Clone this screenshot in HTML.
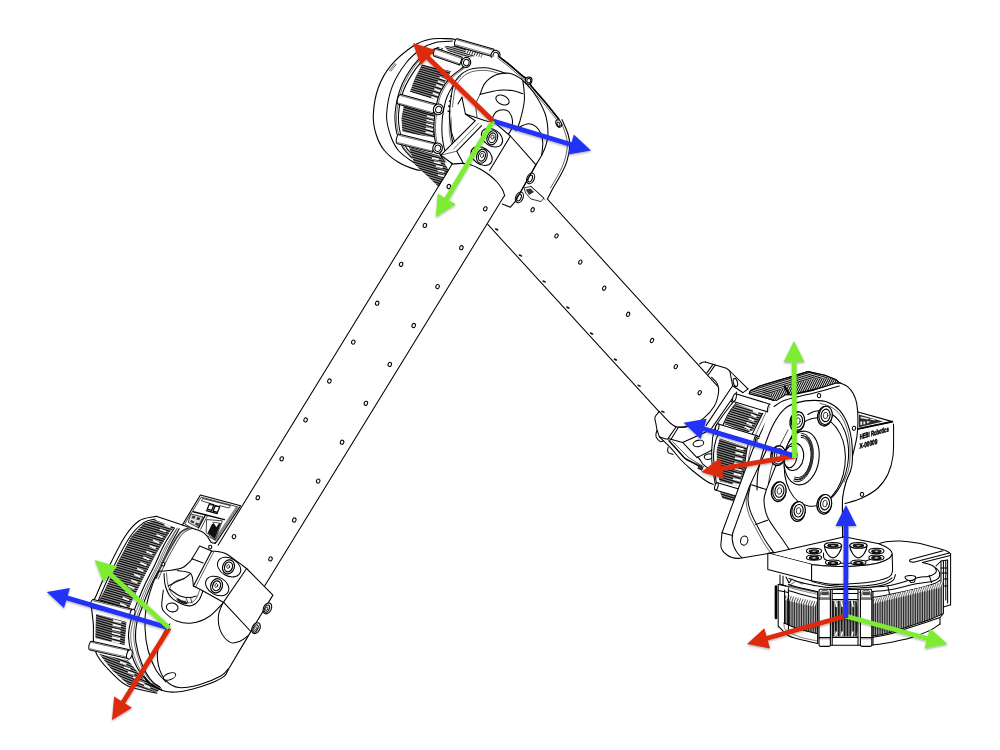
<!DOCTYPE html>
<html><head><meta charset="utf-8"><title>Robot arm frames</title>
<style>
html,body{margin:0;padding:0;background:#fff;}
body{width:1000px;height:750px;overflow:hidden;font-family:"Liberation Sans",sans-serif;}
svg{display:block}
.k{fill:none;stroke:#000;stroke-width:1.04;stroke-linecap:round;stroke-linejoin:round}
.w{fill:#fff;stroke:#000;stroke-width:1.04;stroke-linecap:round;stroke-linejoin:round}
</style></head><body>
<svg width="1000" height="750" viewBox="0 0 1000 750">
<defs>
<filter id="sh" x="-10%" y="-10%" width="120%" height="120%"><feDropShadow dx="0" dy="1.2" stdDeviation="1.2" flood-color="#000" flood-opacity="0.35"/></filter>
</defs>
<rect width="1000" height="750" fill="#fff"/>
<polygon points="470,113.9 740,410.8 740,500.2 470,204.9" fill="#fff" stroke="none"/><line x1="470" y1="113.9" x2="740" y2="410.8" class="k"/><line x1="470" y1="204.9" x2="740" y2="500.2" class="k"/><ellipse cx="532.6" cy="209.8" rx="1.5" ry="2.2" class="k" transform="rotate(25 532.6 209.8)"/><ellipse cx="556.5" cy="235.9" rx="1.5" ry="2.2" class="k" transform="rotate(25 556.5 235.9)"/><ellipse cx="580.3" cy="262.1" rx="1.5" ry="2.2" class="k" transform="rotate(25 580.3 262.1)"/><ellipse cx="604.2" cy="288.2" rx="1.5" ry="2.2" class="k" transform="rotate(25 604.2 288.2)"/><ellipse cx="628.1" cy="314.3" rx="1.5" ry="2.2" class="k" transform="rotate(25 628.1 314.3)"/><ellipse cx="652.0" cy="340.5" rx="1.5" ry="2.2" class="k" transform="rotate(25 652.0 340.5)"/><ellipse cx="675.8" cy="366.6" rx="1.5" ry="2.2" class="k" transform="rotate(25 675.8 366.6)"/><ellipse cx="699.7" cy="392.7" rx="1.5" ry="2.2" class="k" transform="rotate(25 699.7 392.7)"/><ellipse cx="496.6" cy="229.4" rx="2.0" ry="0.9" fill="#111" transform="rotate(25 496.6 229.4)"/><ellipse cx="520.4" cy="255.5" rx="2.0" ry="0.9" fill="#111" transform="rotate(25 520.4 255.5)"/><ellipse cx="544.1" cy="281.5" rx="2.0" ry="0.9" fill="#111" transform="rotate(25 544.1 281.5)"/><ellipse cx="567.9" cy="307.6" rx="2.0" ry="0.9" fill="#111" transform="rotate(25 567.9 307.6)"/><ellipse cx="591.6" cy="333.6" rx="2.0" ry="0.9" fill="#111" transform="rotate(25 591.6 333.6)"/><ellipse cx="615.4" cy="359.6" rx="2.0" ry="0.9" fill="#111" transform="rotate(25 615.4 359.6)"/><ellipse cx="639.1" cy="385.7" rx="2.0" ry="0.9" fill="#111" transform="rotate(25 639.1 385.7)"/><ellipse cx="662.9" cy="411.8" rx="2.0" ry="0.9" fill="#111" transform="rotate(25 662.9 411.8)"/>
<g id="act2"><path d="M424 170 C422.7 169.9 420.3 170.9 416 169.6 C411.7 168.3 403.3 165.3 398 162 C392.7 158.7 387.7 154.7 384 150 C380.3 145.3 377.8 139.9 376 134 C374.2 128.1 372.9 122.3 373.3 114.6 C373.7 106.9 375.3 96.2 378.2 88 C381.1 79.8 385 72.6 390.8 65.6 C396.6 58.6 406.7 50.4 413.2 46 C419.7 41.6 424.9 40.4 430 39.2 C435.1 38 439.6 38.5 444 38.6 C448.4 38.7 452.3 38.5 456.6 39.7 C460.9 40.9 467.8 45 470 46 L470 80 L450 160 Z" class="w" style="stroke:none"/><path d="M424 170 C422.7 169.9 420.3 170.9 416 169.6 C411.7 168.3 403.3 165.3 398 162 C392.7 158.7 387.7 154.7 384 150 C380.3 145.3 377.8 139.9 376 134 C374.2 128.1 372.9 122.3 373.3 114.6 C373.7 106.9 375.3 96.2 378.2 88 C381.1 79.8 385 72.6 390.8 65.6 C396.6 58.6 406.7 50.4 413.2 46 C419.7 41.6 424.9 40.4 430 39.2 C435.1 38 439.6 38.5 444 38.6 C448.4 38.7 452.3 38.5 456.6 39.7 C460.9 40.9 467.8 45 470 46" class="k" style="stroke-width:1.10"/><path d="M426 167 C425 166.8 422.7 167.2 420 166 C417.3 164.8 413.7 162.7 410 160 C406.3 157.3 401.3 154.3 398 150 C394.7 145.7 391.9 139.9 390 134 C388.1 128.1 386.2 122.5 386.6 114.6 C387 106.7 388.9 95.2 392.2 86.6 C395.5 78 401.3 69.1 406.2 62.8 C411.1 56.5 416.7 52.2 421.6 48.8 C426.5 45.4 430.5 43.8 435.6 42.5 C440.7 41.2 449.6 41.3 452.4 41.1" class="k" /><path d="M412 158 C410.5 156.3 405.5 152 403 148 C400.5 144 398.3 139.7 397 134 C395.7 128.3 394.4 121.7 395 114 C395.6 106.3 397.6 96.1 400.6 88 C403.6 79.9 409 71.4 413.2 65.6 C417.4 59.8 421.6 56 425.8 53 C430 50 436.3 48.3 438.4 47.4" class="k" /><path d="M416 158 C414.4 156.3 409.1 152 406.5 148 C403.9 144 401.8 139.6 400.5 134 C399.2 128.4 398 121.8 398.5 114.6 C399 107.4 400.5 98.5 403.4 90.8 C406.3 83.1 411.8 74.4 416 68.4 C420.2 62.5 424.2 58.4 428.6 55.1 C433 51.8 440.3 49.8 442.6 48.8" class="k" /><path d="M413.6 158.4 C412.1 156.7 407.1 152.4 404.6 148.4 C402.1 144.4 399.9 140.1 398.6 134.4 C397.3 128.7 396 122.1 396.6 114.4 C397.2 106.7 399.2 96.5 402.2 88.4 C405.2 80.3 410.6 71.8 414.8 66 C419 60.2 423.2 56.4 427.4 53.4 C431.6 50.4 437.9 48.7 440 47.8" class="k" style="stroke-width:0.55"/><path d="M389.6 70.4 L395 63.6" class="k" style="stroke-width:0.61"/><path d="M390.8 71.2 L396.2 64.4" class="k" style="stroke-width:0.61"/><clipPath id="df1"><path d="M444 46 L466.4 46 L483.2 53 L470.6 57.5 L460.8 56.1 L448 51 Z"/></clipPath><g clip-path="url(#df1)"><path d="M444 46 L466.4 46 L483.2 53 L470.6 57.5 L460.8 56.1 L448 51 Z" fill="#a8a8a8"/><path d="M444.8 39.7L484.7 51.3M444.3 41.5L484.2 53.2M443.7 43.3L483.7 55M443.2 45.2L483.1 56.8M442.7 47L482.6 58.6M442.1 48.8L482.1 60.5" stroke="#111" stroke-width="0.98" fill="none"/><path d="M444.5 40.6L484.5 52.3M444 42.4L483.9 54.1M443.5 44.3L483.4 55.9M442.9 46.1L482.9 57.7M442.4 47.9L482.3 59.6M441.9 49.7L481.8 61.4" stroke="#d0d0d0" stroke-width="0.43" fill="none"/></g><clipPath id="df2"><path d="M422 64.6 L451 71.2 L444 84 L437 100.2 L410 91.8 L415 78 Z"/></clipPath><g clip-path="url(#df2)"><path d="M422 64.6 L451 71.2 L444 84 L437 100.2 L410 91.8 L415 78 Z" fill="#787878"/><path d="M417.8 61.5L452 71.5M417.2 63.6L451.3 73.6M416.6 65.7L450.7 75.7M415.9 67.9L450.1 77.8M415.3 70L449.5 79.9M414.7 72.1L448.9 82M414.1 74.2L448.3 84.2M413.5 76.3L447.6 86.3M412.9 78.4L447 88.4M412.2 80.5L446.4 90.5M411.6 82.6L445.8 92.6M411 84.7L445.2 94.7M410.4 86.9L444.6 96.8M409.8 89L444 98.9M409.2 91.1L443.3 101" stroke="#111" stroke-width="1.46" fill="none"/><path d="M417.5 62.6L451.7 72.5M416.9 64.7L451 74.6M416.3 66.8L450.4 76.8M415.6 68.9L449.8 78.9M415 71L449.2 81M414.4 73.1L448.6 83.1M413.8 75.2L448 85.2M413.2 77.4L447.3 87.3M412.6 79.5L446.7 89.4M411.9 81.6L446.1 91.5M411.3 83.7L445.5 93.7M410.7 85.8L444.9 95.8M410.1 87.9L444.3 97.9M409.5 90L443.6 100M408.9 92.1L443 102.1" stroke="#d0d0d0" stroke-width="0.43" fill="none"/></g><clipPath id="df3"><path d="M404 105 L436 115 L434 137.4 L402.5 132 L401.5 118 Z"/></clipPath><g clip-path="url(#df3)"><path d="M404 105 L436 115 L434 137.4 L402.5 132 L401.5 118 Z" fill="#787878"/><path d="M403 104.7L441.3 115.9M402.4 106.8L440.7 118M401.8 108.9L440.1 120.1M401.2 111.1L439.5 122.2M400.6 113.2L438.9 124.3M400 115.3L438.2 126.4M399.3 117.4L437.6 128.6M398.7 119.5L437 130.7M398.1 121.6L436.4 132.8M397.5 123.7L435.8 134.9M396.9 125.8L435.2 137M396.3 128L434.5 139.1" stroke="#111" stroke-width="1.46" fill="none"/><path d="M402.7 105.8L441 116.9M402.1 107.9L440.4 119.1M401.5 110L439.8 121.2M400.9 112.1L439.2 123.3M400.3 114.2L438.5 125.4M399.7 116.3L437.9 127.5M399 118.4L437.3 129.6M398.4 120.6L436.7 131.7M397.8 122.7L436.1 133.8M397.2 124.8L435.5 135.9M396.6 126.9L434.8 138.1M396 129L434.2 140.2" stroke="#d0d0d0" stroke-width="0.43" fill="none"/></g><clipPath id="df4"><path d="M409 147 L440 156 L449 170.4 L440 188 L424 173 L414.4 164 Z"/></clipPath><g clip-path="url(#df4)"><path d="M409 147 L440 156 L449 170.4 L440 188 L424 173 L414.4 164 Z" fill="#787878"/><path d="M408.1 146.7L453.1 159.8M407.4 148.8L452.5 161.9M406.8 150.9L451.9 164.1M406.2 153L451.3 166.2M405.6 155.1L450.7 168.3M405 157.2L450 170.4M404.4 159.4L449.4 172.5M403.7 161.5L448.8 174.6M403.1 163.6L448.2 176.7M402.5 165.7L447.6 178.8M401.9 167.8L447 180.9M401.3 169.9L446.3 183.1M400.7 172L445.7 185.2M400 174.1L445.1 187.3" stroke="#111" stroke-width="1.46" fill="none"/><path d="M407.7 147.7L452.8 160.9M407.1 149.8L452.2 163M406.5 152L451.6 165.1M405.9 154.1L451 167.2M405.3 156.2L450.4 169.3M404.7 158.3L449.7 171.4M404 160.4L449.1 173.6M403.4 162.5L448.5 175.7M402.8 164.6L447.9 177.8M402.2 166.7L447.3 179.9M401.6 168.9L446.7 182M401 171L446 184.1M400.4 173.1L445.4 186.2M399.7 175.2L444.8 188.3" stroke="#d0d0d0" stroke-width="0.43" fill="none"/></g><path d="M441.5 73.5l6.4 2.6M439.6 77.2l6.4 2.6M437.8 81.2l6.4 2.6M436 85l6.4 2.6M434.4 89l6.4 2.6M432.8 93l6.4 2.6M431.4 97l6.4 2.6M427 116l7.4 1.9M426.6 120l7.4 1.9M426.2 124l7.4 1.9M425.8 128l7.4 1.9M425.6 132l7.4 1.9M432 158l6.8 1.4M434 162l6.8 1.4M436 166l6.8 1.4M437.5 170.5l6.8 1.4M438 175l6.8 1.4" stroke="#fff" stroke-width="1.71" fill="none"/><path d="M466 53L468.4 47.6M468.3 53.8L470.7 48.4M470.6 54.5L473 49.1M472.9 55.2L475.3 49.9M475.2 56L477.6 50.6M477.5 56.8L479.9 51.4M479.8 57.5L482.2 52.1" stroke="#fff" stroke-width="1.71" fill="none"/><path d="M466 53L468.4 47.6M468.3 53.8L470.7 48.4M470.6 54.5L473 49.1M472.9 55.2L475.3 49.9M475.2 56L477.6 50.6M477.5 56.8L479.9 51.4M479.8 57.5L482.2 52.1" stroke="#111" stroke-width="0.67" fill="none" transform="translate(1 0.2)"/><path d="M463.6 67 C461.3 68.9 453.5 74 449.6 78.2 C445.7 82.4 442.6 87.7 440.4 92 C438.2 96.3 437.6 99.3 436.6 104 C435.6 108.7 434.6 115.2 434.2 120.2 C433.8 125.2 433.7 129.4 434.2 134 C434.7 138.6 435.3 143.3 437 148 C438.7 152.7 443.2 159.7 444.5 162 L454 165 L456 154 L456 154 L451.4 136 L451 123 L452 112 L455 99 L462.2 85.2 L474.8 74 Z" class="w" style="stroke:none"/><path d="M463.6 67 C461.3 68.9 453.5 74 449.6 78.2 C445.7 82.4 442.6 87.7 440.4 92 C438.2 96.3 437.6 99.3 436.6 104 C435.6 108.7 434.6 115.2 434.2 120.2 C433.8 125.2 433.7 129.4 434.2 134 C434.7 138.6 435.3 143.3 437 148 C438.7 152.7 443.2 159.7 444.5 162" class="k" style="stroke-width:1.10"/><path d="M469.2 71.2 C467.1 72.8 460.2 76.9 456.6 81 C453 85.1 449.6 91.2 447.4 96 C445.2 100.8 444.5 105.5 443.6 110 C442.7 114.5 442.2 118.3 442 123 C441.8 127.7 441.7 132.8 442.4 138 C443.1 143.2 444.3 149.5 446 154 C447.7 158.5 451.4 163.2 452.5 165" class="k" /><path d="M474.8 74 C472.7 75.9 465.5 81 462.2 85.2 C458.9 89.4 456.7 94.5 455 99 C453.3 103.5 452.7 108 452 112 C451.3 116 451.1 119 451 123 C450.9 127 450.6 130.8 451.4 136 C452.2 141.2 455.2 151 456 154" class="k" style="stroke-width:1.10"/><path d="M465.2 67.5 C462.9 69.4 455.1 74.5 451.2 78.7 C447.3 82.9 444.2 88.2 442 92.5 C439.8 96.8 439.2 99.8 438.2 104.5 C437.2 109.2 436.2 115.7 435.8 120.7 C435.4 125.7 435.3 129.9 435.8 134.5 C436.3 139.1 436.9 143.8 438.6 148.5 C440.3 153.2 444.9 160.2 446.1 162.5" class="k" style="stroke-width:0.55"/><path d="M473.2 73.6 C471.1 75.5 463.9 80.6 460.6 84.8 C457.3 89 455.1 94.1 453.4 98.6 C451.7 103.1 451.1 107.6 450.4 111.6 C449.7 115.6 449.5 118.6 449.4 122.6 C449.3 126.6 449 130.4 449.8 135.6 C450.6 140.8 453.6 150.6 454.4 153.6" class="k" style="stroke-width:0.55"/><path d="M460 77l2.6 0.9M457 81.5l2.6 0.9M450.2 96l2.6 0.9M449 101l2.6 0.9M448.2 106l2.6 0.9M447.6 111l2.6 0.9" stroke="#111" stroke-width="1.34" fill="none"/><path d="M455.4 45.9 L492 56.4 L494 49.2 L457.4 38.7 A1.7 3.7 16 0 0 455.4 45.9 Z" class="w" /><line x1="455.7" y1="44.7" x2="492.3" y2="55.2" class="k" style="stroke-width:0.55"/><line x1="457.1" y1="39.9" x2="493.7" y2="50.4" class="k" style="stroke-width:0.55"/><ellipse cx="495.5" cy="55.2" rx="4.5" ry="4.9" class="w" transform="rotate(16 495.5 55.2)" style="stroke-width:1.10"/><ellipse cx="495.7" cy="55.3" rx="2.7" ry="3" class="w" transform="rotate(16 495.7 55.3)" style="stroke-width:0.98"/><path d="M434.1 56.3 L459.7 65.1 L462.3 57.3 L436.7 48.5 A1.8 4.1 19 0 0 434.1 56.3 Z" class="w" /><line x1="434.5" y1="55.1" x2="460.1" y2="63.9" class="k" style="stroke-width:0.55"/><line x1="436.3" y1="49.7" x2="461.9" y2="58.5" class="k" style="stroke-width:0.55"/><ellipse cx="466.1" cy="62.4" rx="4.6" ry="5" class="w" transform="rotate(16 466.1 62.4)" style="stroke-width:1.10"/><ellipse cx="466.3" cy="62.5" rx="2.8" ry="3.1" class="w" transform="rotate(16 466.3 62.5)" style="stroke-width:0.98"/><path d="M398.4 104.3 L433 113.9 L435.8 104.1 L401.2 94.5 A2.3 5.1 15.5 0 0 398.4 104.3 Z" class="w" /><line x1="398.8" y1="103.2" x2="433.4" y2="112.8" class="k" style="stroke-width:0.55"/><line x1="400.8" y1="95.6" x2="435.4" y2="105.2" class="k" style="stroke-width:0.55"/><ellipse cx="438.4" cy="109.4" rx="5" ry="5.4" class="w" transform="rotate(16 438.4 109.4)" style="stroke-width:1.10"/><ellipse cx="438.6" cy="109.5" rx="3" ry="3.3" class="w" transform="rotate(16 438.6 109.5)" style="stroke-width:0.98"/><path d="M397.5 143.7 L432.5 152.3 L434.7 142.9 L399.7 134.3 A2.2 4.8 13.8 0 0 397.5 143.7 Z" class="w" /><line x1="397.7" y1="142.5" x2="432.7" y2="151.1" class="k" style="stroke-width:0.55"/><line x1="399.5" y1="135.5" x2="434.5" y2="144.1" class="k" style="stroke-width:0.55"/><ellipse cx="437.6" cy="148.2" rx="4.8" ry="5.2" class="w" transform="rotate(16 437.6 148.2)" style="stroke-width:1.10"/><ellipse cx="437.8" cy="148.3" rx="2.9" ry="3.2" class="w" transform="rotate(16 437.8 148.3)" style="stroke-width:0.98"/><path d="M499 56.6 C501 58.2 507 62.7 511 66 C515 69.3 519.9 73.9 522.8 76.2 C525.7 78.5 527 78.1 528.4 79.7 C529.8 81.3 528.4 82.3 531.2 86 C534 89.7 540.3 96.4 545 102 C549.7 107.6 556.4 116.7 559.2 119.6 C562 122.5 560.5 117.2 562 119.6 C563.5 122 566.7 129.6 568 134 C569.3 138.4 570 141.4 569.8 146 C569.6 150.6 568.3 156.8 566.8 161.6 C565.3 166.4 563.2 170.2 560.8 174.8 C558.4 179.4 554.6 185.2 552.4 189.2 C550.2 193.2 548.4 197.2 547.6 198.8 L520 200 L470 150 L452 125 L450 105 L454.2 83.2 L466.8 70.6 L495 56 Z" class="w" style="stroke:none"/><path d="M499 56.6 C501 58.2 507 62.7 511 66 C515 69.3 519.9 73.9 522.8 76.2 C525.7 78.5 527 78.1 528.4 79.7 C529.8 81.3 530.7 85 531.2 86" class="k" style="stroke-width:1.10"/><path d="M531.2 86 C533.5 88.7 540.3 96.4 545 102 C549.7 107.6 556.8 116.7 559.2 119.6" class="k" /><path d="M562 119.6 C563 122 566.7 129.6 568 134 C569.3 138.4 570 141.4 569.8 146 C569.6 150.6 568.3 156.8 566.8 161.6 C565.3 166.4 563.2 170.2 560.8 174.8 C558.4 179.4 554.6 185.2 552.4 189.2 C550.2 193.2 548.4 197.2 547.6 198.8" class="k" style="stroke-width:1.10"/><path d="M497.6 58 C499.6 59.6 505.6 64.1 509.6 67.4 C513.6 70.7 518.5 75.3 521.4 77.6 C524.3 79.9 525.6 79.5 527 81.1 C528.4 82.7 527 83.7 529.8 87.4 C532.6 91.1 538.9 97.8 543.6 103.4 C548.3 109 555.4 118.1 557.8 121" class="k" style="stroke-width:0.61"/><path d="M499 56.6 C501 58.2 507 62.7 511 66 C515 69.3 519.9 73.9 522.8 76.2 C525.7 78.5 527 78.1 528.4 79.7 C529.8 81.3 528.4 82.3 531.2 86 C534 89.7 540.3 96.4 545 102 C549.7 107.6 556.8 116.7 559.2 119.6" class="k" style="stroke-width:1.71;stroke-dasharray:1.2 1.4"/><path d="M562 124 C562.7 126 565.1 132.3 566 136 C566.9 139.7 567.7 141.8 567.4 146 C567.1 150.2 565.9 156.3 564.4 161 C562.9 165.7 560.9 169.5 558.6 174 C556.3 178.5 551.8 185.7 550.4 188" class="k" style="stroke-width:0.61"/><ellipse cx="528.6" cy="80.6" rx="3.3" ry="3.6" class="w" transform="rotate(16 528.6 80.6)" style="stroke-width:1.10"/><ellipse cx="528.8" cy="80.7" rx="2" ry="2.2" class="w" transform="rotate(16 528.8 80.7)" style="stroke-width:0.98"/><ellipse cx="558.7" cy="123.6" rx="2.6" ry="3.9" class="w" transform="rotate(-25 558.7 123.6)" /><ellipse cx="558.5" cy="124.2" rx="1.3" ry="2.3" class="k" transform="rotate(-25 558.5 124.2)" /><path d="M450 105.6 C450.7 101.9 451.4 89 454.2 83.2 C457 77.4 461.7 73.2 466.8 70.6 C471.9 68 479.2 67.6 485 67.8 C490.8 68 495.5 69.7 501.8 72 C508.1 74.3 519.3 80.2 522.8 81.8" class="k" /><path d="M452.4 107 C453.1 103.4 453.8 91 456.4 85.4 C459 79.8 463.2 75.7 468 73.2 C472.8 70.7 479.5 70.2 485 70.4 C490.5 70.6 495 72.2 501 74.4 C507 76.6 517.7 82.1 521 83.6" class="k" style="stroke-width:0.61"/><path d="M450 105.6 C449.9 107.7 449.2 113.9 449.4 118 C449.6 122.1 449.9 125.3 451 130 C452.1 134.7 455.2 143.3 456 146" class="k" /><path d="M480.1 94.4 L485 83.2 L496.2 74.8 L510.2 73.4 L521.4 79 L534 93 L545.2 114 L548 135 L546.4 143.6 L541.6 155.6 L535.6 165.2 L500 130 L465.4 114 L461.9 97.2 Z" class="w" style="stroke:none"/><path d="M480.1 94.4 C480.9 92.5 482.3 86.5 485 83.2 C487.7 79.9 492 76.4 496.2 74.8 C500.4 73.2 506 72.7 510.2 73.4 C514.4 74.1 519.5 78.1 521.4 79" class="k" /><path d="M480.1 94.4 C483.2 93.7 493.7 90.8 499 90.2 C504.3 89.6 508 90 512 90.6 C516 91.2 521 93.2 522.8 93.7" class="k" /><path d="M522.8 80.4 C523.1 83.7 524.9 93.2 524.4 100 C523.9 106.8 521.4 115.9 520 121 C518.6 126.1 516.5 129.2 515.8 130.8" class="k" /><path d="M521.4 79 C523.5 81.3 530 87.2 534 93 C538 98.8 542.9 107.5 545.2 114 C547.5 120.5 547.8 127.1 548 132 C548.2 136.9 547.5 139.7 546.4 143.6 C545.3 147.5 543.4 152 541.6 155.6 C539.8 159.2 536.6 163.6 535.6 165.2" class="k" /><ellipse cx="502.5" cy="100" rx="7" ry="4.4" class="w" transform="rotate(25 502.5 100)" /><path d="M480.1 94.4 C479.4 96 476.5 100.2 476 104 C475.5 107.8 476.8 114.8 477 117" class="k" style="stroke-width:0.73"/><path d="M492 118.8 C492.7 117.7 494.1 113.5 496 112 C497.9 110.5 501 109.8 503.2 109.8 C505.4 109.8 507.5 110.3 509 112 C510.5 113.7 512.1 117 512.4 120 C512.7 123 512.1 127.2 511 130 C509.9 132.8 506.8 135.8 506 137" class="k" /><path d="M517.2 128 C519.1 127.3 525.3 124 528.4 123.8 C531.5 123.6 533.9 124.9 536 126.6 C538.1 128.3 539.9 131.3 541 134 C542.1 136.7 542.7 139.4 542.8 143 C542.9 146.6 541.8 153.5 541.6 155.6" class="k" /><path d="M461.9 97.2 L465.4 114 L490.6 122.4" class="k" /><path d="M461.9 97.2 L458 104" class="k" /><path d="M475.2 120.8 L494.4 122.4 L510.4 136 L536 164.8 L515.2 201.6 L510.4 207.2 L502.4 204 L452.8 164 L440.8 155.2 Z" class="w" style="stroke:none"/><path d="M465.4 114 L475.2 120.8 L440.8 155.2 L452.8 164" class="k" style="stroke-width:1.10"/><path d="M481.6 125.6 L456.8 151.2 L463.4 163.6" class="k" /><path d="M478.4 123.4 L453.6 149" class="k" style="stroke-width:0.55"/><path d="M440.8 155.2 L456.8 151.2" class="k" style="stroke-width:0.61"/><path d="M490.6 122.4 L494.4 122.4 L510.4 136 L536 164.8 L515.2 201.6 L510.4 207.2 L502.4 204" class="k" style="stroke-width:1.10"/><path d="M510.4 136 L489.6 170.4" class="k" /><ellipse cx="492" cy="137.6" rx="11.6" ry="8.2" class="w" transform="rotate(35 492 137.6)" /><ellipse cx="492.3" cy="137.8" rx="5.2" ry="7.2" class="w" transform="rotate(18 492.3 137.8)" style="stroke-width:1.10"/><ellipse cx="492.3" cy="137.8" rx="3.4" ry="5" class="w" transform="rotate(18 492.3 137.8)" style="stroke-width:1.10"/><ellipse cx="492.5" cy="137" rx="1.5" ry="2.2" class="k" transform="rotate(18 492.5 137)" style="stroke-width:0.73"/><ellipse cx="481.6" cy="156" rx="11.6" ry="8.2" class="w" transform="rotate(35 481.6 156)" /><ellipse cx="481.9" cy="156.2" rx="5.2" ry="7.2" class="w" transform="rotate(18 481.9 156.2)" style="stroke-width:1.10"/><ellipse cx="481.9" cy="156.2" rx="3.4" ry="5" class="w" transform="rotate(18 481.9 156.2)" style="stroke-width:1.10"/><ellipse cx="482.1" cy="155.4" rx="1.5" ry="2.2" class="k" transform="rotate(18 482.1 155.4)" style="stroke-width:0.73"/><ellipse cx="530.6" cy="178.4" rx="3.6" ry="5.6" class="w" transform="rotate(25 530.6 178.4)" style="stroke-width:1.10"/><ellipse cx="530.2" cy="178.6" rx="2" ry="3.6" class="k" transform="rotate(25 530.2 178.6)" /><ellipse cx="519.4" cy="197.4" rx="3.6" ry="5.6" class="w" transform="rotate(25 519.4 197.4)" style="stroke-width:1.10"/><ellipse cx="519" cy="197.6" rx="2" ry="3.6" class="k" transform="rotate(25 519 197.6)" /><path d="M536 164.8 L515.2 201.6" class="k" style="stroke-width:1.10"/><path d="M524 188 L531 186.4 L544 198 L541 201.6 L531 199 L525.6 193 Z" fill="#fff" stroke="#111" stroke-width="0.85"/><path d="M525.6 189.4 L530.6 188.4 L534 192 L529 195 Z" fill="#333"/><path d="M531 186.4 L545 199.6" class="k" style="stroke-width:0.61"/></g>
<path d="M452.8 164 C454.3 163.9 459.1 163.3 462 163.4 C464.9 163.5 467.4 163.9 470.4 164.8 C473.4 165.7 476.8 167.3 480 169 C483.2 170.7 486.8 173 489.6 175.2 C492.4 177.4 494.9 179.6 497 182 C499.1 184.4 501.1 187.3 502.4 189.6 C503.7 191.9 504.4 194.9 504.8 196 L256 600 L184.4 600 Z" class="w" style="stroke:none"/><path d="M452.8 164 C454.3 163.9 459.1 163.3 462 163.4 C464.9 163.5 467.4 163.9 470.4 164.8 C473.4 165.7 476.8 167.3 480 169 C483.2 170.7 486.8 173 489.6 175.2 C492.4 177.4 494.9 179.6 497 182 C499.1 184.4 501.1 187.3 502.4 189.6 C503.7 191.9 504.4 194.9 504.8 196" class="k" style="stroke-width:1.10"/><line x1="452.2" y1="164" x2="184.4" y2="600" class="k" /><line x1="504.2" y1="196" x2="256" y2="600" class="k" /><ellipse cx="448.8" cy="186.5" rx="1.7" ry="2.1" class="k" transform="rotate(20 448.8 186.5)" /><ellipse cx="485.3" cy="208.8" rx="1.7" ry="2.1" class="k" transform="rotate(20 485.3 208.8)" /><ellipse cx="424.9" cy="225.4" rx="1.7" ry="2.1" class="k" transform="rotate(20 424.9 225.4)" /><ellipse cx="461.4" cy="247.7" rx="1.7" ry="2.1" class="k" transform="rotate(20 461.4 247.7)" /><ellipse cx="401.1" cy="264.3" rx="1.7" ry="2.1" class="k" transform="rotate(20 401.1 264.3)" /><ellipse cx="437.6" cy="286.6" rx="1.7" ry="2.1" class="k" transform="rotate(20 437.6 286.6)" /><ellipse cx="377.2" cy="303.2" rx="1.7" ry="2.1" class="k" transform="rotate(20 377.2 303.2)" /><ellipse cx="413.7" cy="325.5" rx="1.7" ry="2.1" class="k" transform="rotate(20 413.7 325.5)" /><ellipse cx="353.3" cy="342.1" rx="1.7" ry="2.1" class="k" transform="rotate(20 353.3 342.1)" /><ellipse cx="389.8" cy="364.4" rx="1.7" ry="2.1" class="k" transform="rotate(20 389.8 364.4)" /><ellipse cx="329.4" cy="381" rx="1.7" ry="2.1" class="k" transform="rotate(20 329.4 381)" /><ellipse cx="365.9" cy="403.3" rx="1.7" ry="2.1" class="k" transform="rotate(20 365.9 403.3)" /><ellipse cx="305.6" cy="419.9" rx="1.7" ry="2.1" class="k" transform="rotate(20 305.6 419.9)" /><ellipse cx="342.1" cy="442.2" rx="1.7" ry="2.1" class="k" transform="rotate(20 342.1 442.2)" /><ellipse cx="281.7" cy="458.8" rx="1.7" ry="2.1" class="k" transform="rotate(20 281.7 458.8)" /><ellipse cx="318.2" cy="481.1" rx="1.7" ry="2.1" class="k" transform="rotate(20 318.2 481.1)" /><ellipse cx="257.8" cy="497.7" rx="1.7" ry="2.1" class="k" transform="rotate(20 257.8 497.7)" /><ellipse cx="294.3" cy="520" rx="1.7" ry="2.1" class="k" transform="rotate(20 294.3 520)" /><ellipse cx="234" cy="536.6" rx="1.7" ry="2.1" class="k" transform="rotate(20 234 536.6)" /><ellipse cx="270.5" cy="558.9" rx="1.7" ry="2.1" class="k" transform="rotate(20 270.5 558.9)" />
<g id="act1"><path d="M200.4 495 L240.6 505.8 L216.6 541.6 Q215.4 543.6 213 542.6 L182.4 525 Z" class="w" style="stroke-width:1.10"/><path d="M201.6 497.2 L238.2 507 L215.6 540.4 L185 524.2 Z" class="k" style="stroke-width:0.73"/><path d="M236 506.6 L238.6 507.2 L216.4 540.6 L214 539.6 Z" class="k" style="fill:#888;stroke:none"/><path d="M203 498.6 L230.4 505.6 L229 508 L219.6 505.6 L218.8 506.8 L209.6 504.6 L210.2 503.4 L202 501 Z" class="k" style="stroke-width:0.73"/><path d="M209.6 503.6 L214 504.8 L211.6 510.4 L207.2 509.2 Z M215.4 505.6 L219.8 506.8 L217.4 512.4 L213 511.2 Z" class="k" style="stroke-width:1.22"/><path d="M206.4 510.6 L217.2 513.6" class="k" style="stroke-width:1.22"/><path d="M193.2 511.8 L224.4 519.6" class="k" style="stroke-width:1.46"/><path d="M205.4 515 L198.4 528" class="k" style="stroke-width:1.34"/><path d="M207.6 515.6 L200.6 529.2" class="k" style="stroke-width:0.73"/><path d="M191 514 L203 517 L197.6 527.4 L188.6 522.6 Z" class="k" style="fill:#ddd;stroke-width:0.73"/><path d="M192.6 515.6 l3 0.8 l-1.2 2.4 l-3 -0.8Z M197.4 517 l3 0.8 l-1.2 2.4 l-3 -0.8Z M191 520 l3.4 1.4 l-1 2 l-3.2 -1.6Z M196 522.4 l3 1.2 l-1.2 2.4 l-2.8 -1.4Z" class="k" style="fill:#333;stroke:none"/><path d="M207 519.6 L222.4 520.8 L215 540 L206.4 532.8 Z" class="k" style="fill:#fff;stroke-width:0.73"/><path d="M212 524 L221 523 L214.8 539 L207.6 533 Z" class="k" style="fill:#111;stroke:none"/><path d="M213.2 522.4 L219.6 523 L216.4 527.6 Z" class="k" style="fill:#fff;stroke-width:0.61"/><path d="M157 516.4 L153.6 516.8 L139.2 520.8 L124.8 536.8 L107.2 570.4 L96 596 L91.2 606 L93.4 625 L93.6 642 L97.6 656 L112 673.2 L128 686 L156.8 693.2 L166 690 L200 600 L215 543 L182.4 525 Z" class="w" style="stroke:none"/><path d="M157 516.4 C156.4 516.5 156.6 516.1 153.6 516.8 C150.6 517.5 144 517.5 139.2 520.8 C134.4 524.1 130.1 528.5 124.8 536.8 C119.5 545.1 112 560.5 107.2 570.4 C102.4 580.3 98.7 590.1 96 596 C93.3 601.9 92 604.3 91.2 606" class="k" style="stroke-width:1.10"/><path d="M91.2 606 C91.6 609.2 93 619 93.4 625 C93.8 631 92.9 636.8 93.6 642 C94.3 647.2 94.5 650.8 97.6 656 C100.7 661.2 106.9 668.2 112 673.2 C117.1 678.2 120.5 682.7 128 686 C135.5 689.3 152 692 156.8 693.2" class="k" style="stroke-width:1.10"/><path d="M157 516.4 L182.4 525" class="k" style="stroke-width:1.10"/><path d="M155.2 519 C153.3 519.6 148.2 519.4 144 522.4 C139.8 525.4 135 529.5 130 536.8 C125 544.1 118.8 556.5 114 566 C109.2 575.5 104 587.2 101 594 C98 600.8 96.8 604.8 96 607" class="k" /><clipPath id="df5"><path d="M155.2 520 L144 523.2 L131.2 536.8 L116.8 564 L104 591.2 L98.4 601.5 L128.6 609.6 L132.8 599.2 L144 576.8 L156.8 552.8 L169.6 532 L174.4 527.2 Z"/></clipPath><g clip-path="url(#df5)"><path d="M155.2 520 L144 523.2 L131.2 536.8 L116.8 564 L104 591.2 L98.4 601.5 L128.6 609.6 L132.8 599.2 L144 576.8 L156.8 552.8 L169.6 532 L174.4 527.2 Z" fill="#808080"/><path d="M124 510.8L175.8 526.1M123.4 513L175.1 528.2M122.7 515.1L174.5 530.4M122.1 517.3L173.9 532.5M121.5 519.5L173.2 534.7M120.8 521.6L172.6 536.8M120.2 523.8L172 539M119.6 525.9L171.3 541.2M118.9 528.1L170.7 543.3M118.3 530.3L170.1 545.5M117.7 532.4L169.4 547.6M117 534.6L168.8 549.8M116.4 536.7L168.2 552M115.8 538.9L167.5 554.1M115.1 541.1L166.9 556.3M114.5 543.2L166.3 558.4M113.9 545.4L165.6 560.6M113.2 547.5L165 562.7M112.6 549.7L164.4 564.9M112 551.8L163.7 567.1M111.3 554L163.1 569.2M110.7 556.2L162.5 571.4M110.1 558.3L161.8 573.5M109.4 560.5L161.2 575.7M108.8 562.6L160.5 577.9M108.2 564.8L159.9 580M107.5 567L159.3 582.2M106.9 569.1L158.6 584.3M106.2 571.3L158 586.5M105.6 573.4L157.4 588.7M105 575.6L156.7 590.8M104.3 577.7L156.1 593M103.7 579.9L155.5 595.1M103.1 582.1L154.8 597.3M102.4 584.2L154.2 599.4M101.8 586.4L153.6 601.6M101.2 588.5L152.9 603.8M100.5 590.7L152.3 605.9M99.9 592.9L151.7 608.1M99.3 595L151 610.2M98.6 597.2L150.4 612.4M98 599.3L149.8 614.6" stroke="#111" stroke-width="1.46" fill="none"/><path d="M123.7 511.9L175.5 527.1M123.1 514.1L174.8 529.3M122.4 516.2L174.2 531.4M121.8 518.4L173.6 533.6M121.2 520.5L172.9 535.8M120.5 522.7L172.3 537.9M119.9 524.9L171.7 540.1M119.3 527L171 542.2M118.6 529.2L170.4 544.4M118 531.3L169.7 546.6M117.4 533.5L169.1 548.7M116.7 535.7L168.5 550.9M116.1 537.8L167.8 553M115.5 540L167.2 555.2M114.8 542.1L166.6 557.4M114.2 544.3L165.9 559.5M113.5 546.4L165.3 561.7M112.9 548.6L164.7 563.8M112.3 550.8L164 566M111.6 552.9L163.4 568.1M111 555.1L162.8 570.3M110.4 557.2L162.1 572.5M109.7 559.4L161.5 574.6M109.1 561.6L160.9 576.8M108.5 563.7L160.2 578.9M107.8 565.9L159.6 581.1M107.2 568L159 583.3M106.6 570.2L158.3 585.4M105.9 572.4L157.7 587.6M105.3 574.5L157.1 589.7M104.7 576.7L156.4 591.9M104 578.8L155.8 594M103.4 581L155.2 596.2M102.8 583.1L154.5 598.4M102.1 585.3L153.9 600.5M101.5 587.5L153.2 602.7M100.9 589.6L152.6 604.8M100.2 591.8L152 607M99.6 593.9L151.3 609.2M98.9 596.1L150.7 611.3M98.3 598.3L150.1 613.5M97.7 600.4L149.4 615.6" stroke="#d0d0d0" stroke-width="0.43" fill="none"/></g><clipPath id="df6"><path d="M96 614 L126.4 622 L124.6 645 L95.4 638.6 Z"/></clipPath><g clip-path="url(#df6)"><path d="M96 614 L126.4 622 L124.6 645 L95.4 638.6 Z" fill="#707070"/><path d="M95.3 612.9L131.9 623.6M94.7 615L131.3 625.8M94 617.2L130.7 627.9M93.4 619.3L130 630.1M92.8 621.5L129.4 632.3M92.1 623.6L128.8 634.4M91.5 625.8L128.1 636.6M90.9 628L127.5 638.7M90.2 630.1L126.8 640.9M89.6 632.3L126.2 643.1M88.9 634.4L125.6 645.2" stroke="#111" stroke-width="1.52" fill="none"/><path d="M95 613.9L131.6 624.7M94.3 616.1L131 626.9M93.7 618.2L130.3 629M93.1 620.4L129.7 631.2M92.4 622.6L129.1 633.3M91.8 624.7L128.4 635.5M91.2 626.9L127.8 637.7M90.5 629L127.2 639.8M89.9 631.2L126.5 642M89.3 633.4L125.9 644.1M88.6 635.5L125.3 646.3" stroke="#d0d0d0" stroke-width="0.43" fill="none"/></g><clipPath id="df7"><path d="M99.2 654 L128 660.4 L144 679.6 L160 689.2 L156.8 692.4 L128 684.4 L112 670 Z"/></clipPath><g clip-path="url(#df7)"><path d="M99.2 654 L128 660.4 L144 679.6 L160 689.2 L156.8 692.4 L128 684.4 L112 670 Z" fill="#808080"/><path d="M99.9 649.5L166.5 675.3M99.1 651.6L165.7 677.3M98.3 653.6L164.9 679.4M97.5 655.7L164.1 681.4M96.7 657.7L163.3 683.5M95.9 659.8L162.5 685.5M95.1 661.8L161.7 687.6M94.3 663.9L160.9 689.6M93.5 665.9L160.1 691.7M92.7 668L159.3 693.8M91.9 670L158.5 695.8" stroke="#111" stroke-width="1.40" fill="none"/><path d="M99.5 650.5L166.1 676.3M98.7 652.6L165.3 678.4M97.9 654.6L164.5 680.4M97.1 656.7L163.7 682.5M96.3 658.7L162.9 684.5M95.5 660.8L162.1 686.6M94.7 662.8L161.3 688.6M93.9 664.9L160.5 690.7M93.1 666.9L159.7 692.7M92.3 669L158.9 694.8M91.5 671.1L158.1 696.8" stroke="#d0d0d0" stroke-width="0.43" fill="none"/></g><path d="M164.3 524.5l6.2 2.6M159.8 529.2l6.2 2.6M156.4 534.7l6.2 2.6M153 540.3l6.2 2.6M149.6 545.8l6.2 2.6M146.3 551.4l6.2 2.6M143.3 557.1l6.2 2.6M140.2 562.8l6.2 2.6M137.2 568.6l6.2 2.6M134.1 574.3l6.2 2.6M131.2 580.1l6.2 2.6M128.3 585.9l6.2 2.6M125.4 591.7l6.2 2.6M122.7 597.6l6.2 2.6M120.2 603.6l6.2 2.6M113 620.4l8.4 2.0M112.6 624.6l8.4 2.0M112.2 628.8l8.4 2.0M112 633l8.4 2.0M111.8 637.2l8.4 2.0M111.6 641l8.4 2.0M120 662l6.4 2.2M124 667l6.4 2.2M128 672l6.4 2.2M133 677l6.4 2.2M138 681.5l6.4 2.2M144 685.4l6.4 2.2" stroke="#fff" stroke-width="1.71" fill="none"/><path d="M174.4 528 C172.5 531.1 166.4 540.4 163.2 546.4 C160 552.4 158.4 557.3 155.2 564 C152 570.7 147.2 579.5 144 586.4 C140.8 593.3 138.2 600 136 605.6 C133.8 611.2 132.2 614.6 131 620 C129.8 625.4 128 631 128.6 638 C129.2 645 131.3 654.8 134.4 662 C137.5 669.2 142.7 676.5 147.2 681.2 C151.7 685.9 159.2 688.5 161.6 690 L163 688.6 L152 681.2 L142.4 665.2 L136 642.8 L136.4 625 L141.6 608.8 L150.4 586.4 L160 567.2 L169.6 546.4 L179.2 528.8 Z" class="w" style="stroke:none"/><path d="M174.4 528 C172.5 531.1 166.4 540.4 163.2 546.4 C160 552.4 158.4 557.3 155.2 564 C152 570.7 147.2 579.5 144 586.4 C140.8 593.3 138.2 600 136 605.6 C133.8 611.2 132.2 614.6 131 620 C129.8 625.4 128 631 128.6 638 C129.2 645 131.3 654.8 134.4 662 C137.5 669.2 142.7 676.5 147.2 681.2 C151.7 685.9 159.2 688.5 161.6 690" class="k" style="stroke-width:1.10"/><path d="M179.2 528.8 C177.6 531.7 172.8 540 169.6 546.4 C166.4 552.8 163.2 560.5 160 567.2 C156.8 573.9 153.5 579.5 150.4 586.4 C147.3 593.3 143.9 602.4 141.6 608.8 C139.3 615.2 137.3 619.3 136.4 625 C135.5 630.7 135 636.1 136 642.8 C137 649.5 139.7 658.8 142.4 665.2 C145.1 671.6 148.6 677.3 152 681.2 C155.4 685.1 161.2 687.4 163 688.6" class="k" style="stroke-width:1.10"/><path d="M176.6 528.8 C174.7 531.9 168.6 541.2 165.4 547.2 C162.2 553.2 160.6 558.1 157.4 564.8 C154.2 571.5 149.4 580.3 146.2 587.2 C143 594.1 140.4 600.8 138.2 606.4 C136 612 134.4 615.4 133.2 620.8 C132 626.2 130.2 631.8 130.8 638.8 C131.4 645.8 133.5 655.6 136.6 662.8 C139.7 670 144.9 677.3 149.4 682 C153.9 686.7 161.4 689.3 163.8 690.8" class="k" style="stroke-width:0.55"/><path d="M177.4 528.2 C175.8 531.1 171 539.4 167.8 545.8 C164.6 552.2 161.4 559.9 158.2 566.6 C155 573.3 151.7 578.9 148.6 585.8 C145.5 592.7 142.1 601.8 139.8 608.2 C137.5 614.6 135.5 618.7 134.6 624.4 C133.7 630.1 133.2 635.5 134.2 642.2 C135.2 648.9 137.9 658.2 140.6 664.6 C143.3 671 146.8 676.7 150.2 680.6 C153.6 684.5 159.4 686.8 161.2 688" class="k" style="stroke-width:0.55"/><path d="M91.4 607.6 L129.6 617 L131.6 609 L93.4 599.6 A1.8 4.1 13.8 0 0 91.4 607.6 Z" class="w" /><line x1="91.7" y1="606.4" x2="129.9" y2="615.8" class="k" style="stroke-width:0.55"/><line x1="93.1" y1="600.8" x2="131.3" y2="610.2" class="k" style="stroke-width:0.55"/><ellipse cx="132.4" cy="613.6" rx="2.4" ry="4.4" class="w" transform="rotate(16 132.4 613.6)" /><path d="M90 650 L126.4 658.2 L128.4 649.4 L92 641.2 A2 4.5 12.7 0 0 90 650 Z" class="w" /><line x1="90.3" y1="648.8" x2="126.7" y2="657" class="k" style="stroke-width:0.55"/><line x1="91.7" y1="642.4" x2="128.1" y2="650.6" class="k" style="stroke-width:0.55"/><ellipse cx="129.4" cy="654.4" rx="2.6" ry="4.8" class="w" transform="rotate(16 129.4 654.4)" /><path d="M152 683.6 L158 686.4 L160.8 690" class="k" style="stroke-width:0.73"/><path d="M146 680 L150.4 686.8" class="k" style="stroke-width:0.73"/><path d="M182.4 525 C183.6 525.4 186.4 526.3 189.6 527.4 C192.8 528.5 198.7 530.2 201.6 531.6 C204.5 533 205.4 534.2 207 536 C208.6 537.8 209.8 541.2 211.2 542.4 C212.6 543.6 214.7 543.2 215.4 543.4 L264 586 L273 595.6 L250.8 631.6 L228 670 L224 676.4 L210 683.6 L192 689.2 L176 692 L163.2 690.8 L152 685 L163.2 690.8 L150 672 L143 650 L141.6 630 L144 612 L152 590 L162 568 L172 548 L184.4 528.8 Z" class="w" style="stroke:none"/><path d="M182.4 525 C183.6 525.4 186.4 526.3 189.6 527.4 C192.8 528.5 198.7 530.2 201.6 531.6 C204.5 533 205.4 534.2 207 536 C208.6 537.8 209.8 541.2 211.2 542.4 C212.6 543.6 214.7 543.2 215.4 543.4" class="k" style="stroke-width:1.10"/><path d="M250.8 631.6 L228 670" class="k" style="stroke-width:1.10"/><path d="M228 670 C227.3 671.1 227 674.1 224 676.4 C221 678.7 215.3 681.5 210 683.6 C204.7 685.7 197.7 687.8 192 689.2 C186.3 690.6 180.8 691.7 176 692 C171.2 692.3 167.2 692 163.2 690.8 C159.2 689.6 155.2 687.4 152 685 C148.8 682.6 145.3 677.8 144 676.4" class="k" style="stroke-width:1.10"/><path d="M189.6 527.6 C188.2 528.3 183.6 529.6 181 532 C178.4 534.4 176.8 537.3 174 542 C171.2 546.7 167 554 164 560 C161 566 157.3 575 156 578" class="k" style="stroke:#777;stroke-width:2.20"/><path d="M189.6 527.6 C188.2 528.3 183.6 529.6 181 532 C178.4 534.4 176.8 537.3 174 542 C171.2 546.7 167 554 164 560 C161 566 157.3 575 156 578" class="k" style="stroke-width:0.61"/><path d="M192 528.5 C190.6 529.2 186 530.5 183.4 532.9 C180.8 535.3 179.2 538.2 176.4 542.9 C173.6 547.6 169.4 554.9 166.4 560.9 C163.4 566.9 159.7 575.9 158.4 578.9" class="k" style="stroke-width:0.73"/><ellipse cx="163.3" cy="564.3" rx="1.5" ry="1.8" class="w" /><path d="M158.4 571.3 C157.3 573.8 154 580.2 152 586 C150 591.8 147.6 599 146.4 606 C145.2 613 144.7 620.7 145 628 C145.3 635.3 146.2 643 148 650 C149.8 657 153 664.7 156 670 C159 675.3 164.3 680 166 682" class="k" /><path d="M170 624 C169.4 624.7 168.3 624.7 166.4 628.4 C164.5 632.1 159.7 639.9 158.4 646 C157.1 652.1 157.1 659.3 158.4 665.2 C159.7 671.1 162.9 677.5 166.4 681.2 C169.9 684.9 173.6 687.1 179.2 687.6 C184.8 688.1 193.1 686.3 200 684.4 C206.9 682.5 216.1 678.6 220.8 676 C225.5 673.4 226.8 670.2 228 669" class="k" /><ellipse cx="169.6" cy="676.4" rx="6.4" ry="3.2" class="w" transform="rotate(-20 169.6 676.4)" /><path d="M163.3 590 C163.1 592.7 161.5 602.2 161.8 606 C162.2 609.8 162.9 610.5 165.4 613 C167.9 615.5 172.2 619.3 176.6 621 C181 622.7 186.6 623.8 192 623.1 C197.4 622.4 203.6 620.2 208.8 616.8 C214 613.4 220.8 605.1 223.2 602.8" class="k" /><ellipse cx="172.2" cy="607.4" rx="5.9" ry="4.4" class="w" transform="rotate(10 172.2 607.4)" /><path d="M223.2 602.2 C222.4 604.5 218.8 611.1 218.4 616 C218 620.9 218.8 627.2 220.8 631.6 C222.8 636 227.2 640.8 230.4 642.4 C233.6 644 237.1 642.3 240 641.2 C242.9 640.1 246.3 636.9 247.6 636" class="k" /><path d="M158.4 571.3 C160 571.2 164.2 571.2 168.2 570.6 C172.2 570 178.2 569.7 182.2 567.8 C186.2 565.9 190.4 560.8 192 559.4" class="k" /><path d="M192 558.7 L199.7 546.1 L211.6 551" class="k" /><path d="M192 558.7 L203.2 562.9" class="k" /><path d="M164 573.4 C164.2 575.5 164.2 582 165.4 586 C166.6 590 168.2 594.2 171 597.2 C173.8 600.2 178.7 602.8 182.2 604.2 C185.7 605.6 189.2 606.3 192 605.6 C194.8 604.9 197.1 602.6 199 600 C200.9 597.4 202.5 591.8 203.2 590.2" class="k" /><path d="M166.6 573 C166.8 575 166.9 581.3 168 585 C169.1 588.7 170.5 592.2 173 595 C175.5 597.8 180 600.3 183 601.6 C186 602.9 188.8 603.2 191 602.6 C193.2 602 194.9 600.3 196.4 598 C197.9 595.7 199.4 590.5 200 589" class="k" style="stroke-width:0.61"/><path d="M177.3 570.6 C179.5 571.1 187.9 570.8 190.6 573.4 C193.3 576 192.9 583.9 193.4 586" class="k" /><path d="M168.2 586 C169.8 585.2 175.2 582.3 178 581 C180.8 579.7 182.9 579.3 185 578 C187.1 576.7 189.7 574.2 190.6 573.4" class="k" /><path d="M169.6 589 C171.3 590.2 176.6 594.6 180 596 C183.4 597.4 187.3 597.6 190 597.6 C192.7 597.6 195.2 596.3 196.2 596" class="k" /><path d="M169 590 C169.8 588.7 171.5 583.9 174 582 C176.5 580.1 182.3 579.3 184 578.8" class="k" style="stroke-width:0.61"/><path d="M186 598 L188 602.6" class="k" style="stroke-width:0.73"/><path d="M190.6 597.6 L192 602.8" class="k" style="stroke-width:0.73"/><path d="M177 600 Q182 604.4 187 604 L186 601.4 Q181 601.6 178 598.6 Z" class="k" style="fill:#222;stroke-width:0.61"/><ellipse cx="210.2" cy="547.1" rx="1.6" ry="1.8" class="w" /><path d="M211.6 551 L224.2 553.1 L246.6 568.5 L272.9 595.1 L250.8 631.5 L224.2 602.8 L201.8 590.2 L193.4 586 Z" class="w" style="stroke:none"/><path d="M193.4 586 L211.6 551" class="k" style="stroke-width:1.10"/><path d="M195.6 587 L213.6 552" class="k" style="stroke-width:0.61"/><path d="M211.6 551 C213.7 551.4 220.1 551.5 224.2 553.1 C228.3 554.7 232.3 558 236 560.6 C239.7 563.2 244.8 567.2 246.6 568.5" class="k" style="stroke-width:1.10"/><path d="M246.6 568.5 L272.9 595.1 L250.8 631.5" class="k" style="stroke-width:1.10"/><path d="M246.6 568.5 L223.4 602.4" class="k" /><path d="M193.4 586 L201.8 590.2 L224.2 602.8 L250.8 631.5" class="k" style="stroke-width:1.10"/><ellipse cx="229.1" cy="567.1" rx="12.4" ry="8.8" class="w" transform="rotate(30 229.1 567.1)" /><ellipse cx="228.5" cy="566.9" rx="5.8" ry="7.2" class="w" transform="rotate(20 228.5 566.9)" style="stroke-width:1.22"/><ellipse cx="228.5" cy="566.9" rx="3.9" ry="5" class="w" transform="rotate(20 228.5 566.9)" style="stroke-width:1.22"/><ellipse cx="228.2" cy="566.5" rx="1.4" ry="1.9" class="k" transform="rotate(20 228.2 566.5)" style="stroke-width:0.73"/><ellipse cx="217.2" cy="586" rx="12.4" ry="8.8" class="w" transform="rotate(30 217.2 586)" /><ellipse cx="216.6" cy="585.8" rx="5.8" ry="7.2" class="w" transform="rotate(20 216.6 585.8)" style="stroke-width:1.22"/><ellipse cx="216.6" cy="585.8" rx="3.9" ry="5" class="w" transform="rotate(20 216.6 585.8)" style="stroke-width:1.22"/><ellipse cx="216.3" cy="585.4" rx="1.4" ry="1.9" class="k" transform="rotate(20 216.3 585.4)" style="stroke-width:0.73"/><ellipse cx="267.4" cy="608.4" rx="3.8" ry="5.8" class="w" transform="rotate(28 267.4 608.4)" style="stroke-width:1.10"/><ellipse cx="266.9" cy="608.7" rx="2.2" ry="3.9" class="w" transform="rotate(28 266.9 608.7)" /><ellipse cx="266.6" cy="608.9" rx="1" ry="2.2" class="k" transform="rotate(28 266.6 608.9)" style="stroke-width:0.61"/><ellipse cx="256" cy="628.2" rx="3.8" ry="5.8" class="w" transform="rotate(28 256 628.2)" style="stroke-width:1.10"/><ellipse cx="255.5" cy="628.5" rx="2.2" ry="3.9" class="w" transform="rotate(28 255.5 628.5)" /><ellipse cx="255.2" cy="628.7" rx="1" ry="2.2" class="k" transform="rotate(28 255.2 628.7)" style="stroke-width:0.61"/></g>
<g id="base"><path d="M877 544.2 L886 541.8 L900.4 541 L917.2 543 L936.4 547.8 L946 550.8 L950.6 553.8 L950.6 604.8 L943.5 607 L943.5 613 L940 617 L940 624 L930 630.4 L910 638 L890 642.4 L872 645 L872 646.3 L860.4 646.3 L860.4 645.3 L830.4 645.3 L830.4 646.3 L819 646.3 L817.8 643.4 L805 640.6 L789 636 L778.8 626.6 L777 620 L776 618 L776 586 L779 580 L800 560 L843 540 Z" class="w" style="stroke:none"/><path d="M877 544.2 C878.5 543.8 882.1 542.3 886 541.8 C889.9 541.3 895.2 540.8 900.4 541 C905.6 541.2 911.2 541.9 917.2 543 C923.2 544.1 931.6 546.5 936.4 547.8 C941.2 549.1 943.6 549.8 946 550.8 C948.4 551.8 949.8 553.3 950.6 553.8" class="k" /><line x1="950.6" y1="553.8" x2="950.6" y2="604.8" class="k" /><path d="M950.6 604.8 L943.5 607" class="k" /><path d="M943 550.8 L910.5 559.6" class="k" /><path d="M910.5 559.6 C908.5 560.4 909.5 562.2 913.6 562.2" class="k" /><path d="M913.6 562.2 L949.4 553" class="k" /><path d="M922.5 562.6 L950.3 555.6" class="k" /><path d="M922.5 562.6 C924.2 563.1 930.5 564.5 932.8 565.8 C935.1 567.1 936.2 569.2 936.4 570.6 C936.6 572 935.4 573.2 934 574.2 C932.6 575.2 930.8 576 928 576.6 C925.2 577.2 923.6 576.3 917.2 577.8 C910.8 579.3 897.8 584 889.6 585.6 C881.4 587.2 874.6 586.9 868 587.2 C861.4 587.5 853 587.5 850 587.6" class="k" /><path d="M936.4 568.2 C936.9 568.9 939 570.8 939.4 572.4 C939.8 574 940.1 576.3 938.8 577.8 C937.5 579.3 935.4 580.4 931.6 581.4 C927.8 582.4 923 582.4 916 583.8 C909 585.2 897 588.5 889.6 589.8 C882.2 591.1 876.6 591.2 871.6 591.6 C866.6 592 861.6 592.1 859.6 592.2" class="k" /><path d="M940 580.2 C939 580.8 937.8 582.4 934 583.8 C930.2 585.2 924.6 586.8 917.2 588.6 C909.8 590.4 897 593.1 889.6 594.6 C882.2 596.1 875.6 597.1 872.8 597.6" class="k" /><path d="M887.8 586 L889.6 594.6" class="k" /><path d="M929.2 575.4 L931.6 582.6" class="k" /><path d="M905 577.2 C905 575.4 914.5 574.6 915.6 577 C916.3 578.8 913 580.6 910.6 580.6 C908 580.6 905 579 905 577.2 Z" class="w" /><path d="M909 580.3 L911 582.6 L914.5 582 L915.6 577.5" class="k" /><path d="M941 561 L941 585" class="k" /><path d="M943.4 561 L943.4 606" class="k" /><path d="M945.8 561 L945.8 600" class="k" /><path d="M947.6 560 L947.6 603" class="k" /><path d="M941 568 L947.6 568" class="k" /><path d="M941 573 L947.6 573" class="k" /><path d="M943.4 579 L947.6 579" class="k" /><path d="M943.4 586 L947.6 586" class="k" /><path d="M936 566 L941 561 L947.6 560" class="k" /><clipPath id="cbR"><path d="M872.8 599.4 L890 595.2 L910 590.4 L930 585.6 L942.4 582.6 L942.4 614 L930 619.4 L910 626 L890 632.4 L872.8 636 Z"/></clipPath><g clip-path="url(#cbR)"><rect x="872" y="581.6" width="71.4" height="55.4" fill="#888888"/><path d="M873 581.6V637M875.4 581.6V637M877.7 581.6V637M880.1 581.6V637M882.4 581.6V637M884.8 581.6V637M887.1 581.6V637M889.5 581.6V637M891.8 581.6V637M894.2 581.6V637M896.5 581.6V637M898.9 581.6V637M901.2 581.6V637M903.6 581.6V637M905.9 581.6V637M908.3 581.6V637M910.6 581.6V637M913 581.6V637M915.3 581.6V637M917.7 581.6V637M920 581.6V637M922.4 581.6V637M924.7 581.6V637M927.1 581.6V637M929.4 581.6V637M931.8 581.6V637M934.1 581.6V637M936.5 581.6V637M938.8 581.6V637M941.2 581.6V637" stroke="#2a2a2a" stroke-width="1.22" fill="none"/><path d="M874.2 581.6V637M876.5 581.6V637M878.9 581.6V637M881.2 581.6V637M883.6 581.6V637M885.9 581.6V637M888.3 581.6V637M890.6 581.6V637M893 581.6V637M895.3 581.6V637M897.7 581.6V637M900 581.6V637M902.4 581.6V637M904.7 581.6V637M907.1 581.6V637M909.4 581.6V637M911.8 581.6V637M914.1 581.6V637M916.5 581.6V637M918.8 581.6V637M921.2 581.6V637M923.5 581.6V637M925.9 581.6V637M928.2 581.6V637M930.6 581.6V637M932.9 581.6V637M935.3 581.6V637M937.6 581.6V637M940 581.6V637M942.3 581.6V637" stroke="#d0d0d0" stroke-width="0.49" fill="none"/></g><path d="M874 603.6L876.2 598.6M876.4 603L878.6 598M878.7 602.5L880.9 597.5M881.1 601.9L883.3 596.9M883.4 601.3L885.6 596.3M885.8 600.7L888 595.7M888.1 600.2L890.3 595.2M890.5 599.6L892.7 594.6M892.8 599L895 594M895.2 598.5L897.4 593.5M897.5 597.9L899.7 592.9M899.9 597.3L902.1 592.3M902.2 596.8L904.4 591.8M904.6 596.2L906.8 591.2M906.9 595.6L909.1 590.6M909.3 595.1L911.5 590.1M911.6 594.5L913.8 589.5M914 594L916.2 589M916.3 593.4L918.5 588.4M918.7 592.8L920.9 587.8M921 592.3L923.2 587.3M923.4 591.7L925.6 586.7M925.7 591.1L927.9 586.1M928.1 590.6L930.3 585.6M930.4 590L932.6 585M932.8 589.4L935 584.4M935.1 588.9L937.3 583.9M937.5 588.3L939.7 583.3M939.8 587.7L942 582.7" stroke="#fff" stroke-width="1.83" fill="none"/><path d="M874 603.6L876.2 598.6M876.4 603L878.6 598M878.7 602.5L880.9 597.5M881.1 601.9L883.3 596.9M883.4 601.3L885.6 596.3M885.8 600.7L888 595.7M888.1 600.2L890.3 595.2M890.5 599.6L892.7 594.6M892.8 599L895 594M895.2 598.5L897.4 593.5M897.5 597.9L899.7 592.9M899.9 597.3L902.1 592.3M902.2 596.8L904.4 591.8M904.6 596.2L906.8 591.2M906.9 595.6L909.1 590.6M909.3 595.1L911.5 590.1M911.6 594.5L913.8 589.5M914 594L916.2 589M916.3 593.4L918.5 588.4M918.7 592.8L920.9 587.8M921 592.3L923.2 587.3M923.4 591.7L925.6 586.7M925.7 591.1L927.9 586.1M928.1 590.6L930.3 585.6M930.4 590L932.6 585M932.8 589.4L935 584.4M935.1 588.9L937.3 583.9M937.5 588.3L939.7 583.3M939.8 587.7L942 582.7" stroke="#222" stroke-width="0.61" fill="none" transform="translate(0.9 0)"/><path d="M872.8 636 C875.7 635.4 883.8 634.1 890 632.4 C896.2 630.7 903.3 628.2 910 626 C916.7 623.8 924.6 621.4 930 619.4 C935.4 617.4 940.3 614.9 942.4 614" class="k" /><path d="M872 645 C875 644.6 883.7 643.6 890 642.4 C896.3 641.2 903.3 640 910 638 C916.7 636 925 632.7 930 630.4 C935 628.1 938.3 625.1 940 624" class="k" /><path d="M940 624 L940 617.5 L943.4 613.5 L943.4 606" class="k" /><path d="M872 637.5 C875 636.9 883.7 635.6 890 634 C896.3 632.4 903.3 629.8 910 627.6 C916.7 625.4 925 622.7 930 621 C935 619.3 938.3 618.1 940 617.5" class="k" /><clipPath id="cbL"><path d="M784.8 595.4 L795 598 L806 600.4 L817.8 602.6 L817.8 633.8 L806 631 L795 627.8 L784 623 Z"/></clipPath><g clip-path="url(#cbL)"><rect x="784" y="594.4" width="34.8" height="40.4" fill="#888888"/><path d="M785 594.4V634.8M787.4 594.4V634.8M789.7 594.4V634.8M792.1 594.4V634.8M794.4 594.4V634.8M796.8 594.4V634.8M799.1 594.4V634.8M801.5 594.4V634.8M803.8 594.4V634.8M806.2 594.4V634.8M808.5 594.4V634.8M810.9 594.4V634.8M813.2 594.4V634.8M815.6 594.4V634.8" stroke="#2a2a2a" stroke-width="1.22" fill="none"/><path d="M786.2 594.4V634.8M788.5 594.4V634.8M790.9 594.4V634.8M793.2 594.4V634.8M795.6 594.4V634.8M797.9 594.4V634.8M800.3 594.4V634.8M802.6 594.4V634.8M805 594.4V634.8M807.3 594.4V634.8M809.7 594.4V634.8M812 594.4V634.8M814.4 594.4V634.8M816.7 594.4V634.8" stroke="#d0d0d0" stroke-width="0.49" fill="none"/></g><path d="M786 600.2L788.2 595.2M788.4 600.8L790.6 595.8M790.7 601.4L792.9 596.4M793.1 602L795.3 597M795.4 602.6L797.6 597.6M797.8 603.1L800 598.1M800.1 603.6L802.3 598.6M802.5 604.1L804.7 599.1M804.8 604.6L807 599.6M807.2 605.1L809.4 600.1M809.5 605.6L811.7 600.6M811.9 606L814.1 601M814.2 606.4L816.4 601.4" stroke="#fff" stroke-width="1.83" fill="none"/><path d="M786 600.2L788.2 595.2M788.4 600.8L790.6 595.8M790.7 601.4L792.9 596.4M793.1 602L795.3 597M795.4 602.6L797.6 597.6M797.8 603.1L800 598.1M800.1 603.6L802.3 598.6M802.5 604.1L804.7 599.1M804.8 604.6L807 599.6M807.2 605.1L809.4 600.1M809.5 605.6L811.7 600.6M811.9 606L814.1 601M814.2 606.4L816.4 601.4" stroke="#222" stroke-width="0.61" fill="none" transform="translate(0.9 0)"/><path d="M784 623 C785.8 623.8 791.3 626.5 795 627.8 C798.7 629.1 802.2 630 806 631 C809.8 632 815.8 633.3 817.8 633.8" class="k" /><path d="M778.8 626.6 C780.5 628.2 784.6 633.7 789 636 C793.4 638.3 800.2 639.4 805 640.6 C809.8 641.8 815.7 642.9 817.8 643.4" class="k" /><path d="M784 623 C784.3 624.2 783.3 627.7 786 630 C788.7 632.3 794.7 635.2 800 637 C805.3 638.8 814.8 640.3 817.8 641" class="k" style="stroke-width:0.49"/><path d="M778.2 584.6 L778.2 627" class="k" /><path d="M788.4 588 L788.4 632" class="k" /><path d="M784.6 590 L784.6 623" class="k" /><path d="M776 586.5 V618" class="k" style="stroke-width:2.68"/><path d="M778.2 590.5 L788.4 592.5" class="k" /><path d="M778.2 584.6 L788.4 586.6" class="k" /><path d="M780 575 L780 584" class="k" /><path d="M783 576 L783 585" class="k" /><path d="M786 577 L789 583 L792 579" class="k" /><path d="M780 584 L786 586" class="k" /><path d="M790 585 L796 581 L802 584 L808 582 L814 586" class="k" style="stroke-width:0.61"/><path d="M789 586 L816 592" class="k" style="stroke:#555;stroke-width:1.71"/><path d="M788.4 584.6 C790.3 585.1 795.1 586.6 800 587.8 C804.9 589 814.8 591.1 817.8 591.8" class="k" /><path d="M788.4 590.6 C790.3 591.2 795.1 592.7 800 594 C804.9 595.3 814.8 597.7 817.8 598.4" class="k" /><path d="M788.4 587.2 C790.3 587.7 795.1 589.2 800 590.4 C804.9 591.6 814.8 593.7 817.8 594.4" class="k" style="stroke-width:0.49"/><clipPath id="cbC"><path d="M832.5 600.8 L858 600.8 L858 636.5 L832.5 636.5 Z"/></clipPath><g clip-path="url(#cbC)"><rect x="832" y="599.8" width="27" height="37.7" fill="#777"/><path d="M833 599.8V637.5M835.9 599.8V637.5M838.8 599.8V637.5M841.7 599.8V637.5M844.6 599.8V637.5M847.5 599.8V637.5M850.4 599.8V637.5M853.3 599.8V637.5M856.2 599.8V637.5" stroke="#1a1a1a" stroke-width="1.83" fill="none"/><path d="M834.5 599.8V637.5M837.4 599.8V637.5M840.2 599.8V637.5M843.1 599.8V637.5M846 599.8V637.5M848.9 599.8V637.5M851.8 599.8V637.5M854.7 599.8V637.5M857.6 599.8V637.5" stroke="#d0d0d0" stroke-width="0.49" fill="none"/></g><path d="M835.6 601L836.6 607M836.5 631.5L835.7 636M841.4 601L842.4 607M842.3 631.5L841.5 636M852 601L853 607M852.9 631.5L852.1 636M857.4 601L858.4 607M858.3 631.5L857.5 636" stroke="#fff" stroke-width="1.59" fill="none"/><path d="M830.4 589.6 L860.4 589.6" class="k" /><path d="M832.2 593.4 L858 593.4" class="k" /><path d="M832.2 599.6 L858 599.6" class="k" /><path d="M832.2 637.4 L858 637.4" class="k" /><path d="M830.4 645.3 L860.4 645.3" class="k" /><path d="M819 591 Q819 589.2 820.5 589.2 H828.9 Q830.4 589.2 830.4 591 V644.8 Q830.4 646.4 828.9 646.4 H820.5 Q819 646.4 819 644.8 Z" class="w" style="stroke-width:1.10"/><path d="M819 599 L830.4 599" class="k" /><path d="M819 597.6 L830.4 597.6" class="k" style="stroke-width:0.49"/><path d="M819 637.4 L830.4 637.4" class="k" /><path d="M819 638.8 L830.4 638.8" class="k" style="stroke-width:0.49"/><rect x="821.6" y="592.2" width="6.6" height="2.6" rx="0.8" fill="#444" stroke="#111" stroke-width="0.61"/><path d="M820.2 596 Q820.2 591 822 590.6 H827.4 Q829.1999999999999 591 829.1999999999999 596" class="k" style="stroke-width:0.61"/><path d="M860.4 591 Q860.4 589.2 861.9 589.2 H870.3 Q871.8 589.2 871.8 591 V644.8 Q871.8 646.4 870.3 646.4 H861.9 Q860.4 646.4 860.4 644.8 Z" class="w" style="stroke-width:1.10"/><path d="M860.4 599 L871.8 599" class="k" /><path d="M860.4 597.6 L871.8 597.6" class="k" style="stroke-width:0.49"/><path d="M860.4 637.4 L871.8 637.4" class="k" /><path d="M860.4 638.8 L871.8 638.8" class="k" style="stroke-width:0.49"/><rect x="863.0" y="592.2" width="6.6" height="2.6" rx="0.8" fill="#444" stroke="#111" stroke-width="0.61"/><path d="M861.6 596 Q861.6 591 863.4 590.6 H868.8 Q870.5999999999999 591 870.5999999999999 596" class="k" style="stroke-width:0.61"/><path d="M832.2 589.6 L832.2 645.3" class="k" /><path d="M858 589.6 L858 645.3" class="k" /><path d="M817.6 591.8 L817.6 643.4" class="k" /><path d="M873 592 L873 645" class="k" /><path d="M789 578.5 C791.7 579.4 798.9 582.1 805 583.6 C811.1 585.1 818.7 586.4 825.4 587.2 C832.1 588 838.6 588.3 845.4 588.4 C852.2 588.5 859.4 588.3 866 587.6 C872.6 586.9 880.5 585.6 885 584.4 C889.5 583.2 891.3 582 893 580.4 C894.7 578.8 895 575.6 895.4 574.6" class="w" /><path d="M812 581.5 C814.3 582.1 820.4 584.1 826 585 C831.6 585.9 838.7 586.5 845.4 586.6 C852.1 586.7 859.6 586.5 866 585.8 C872.4 585.1 879.7 583.7 884 582.4 C888.3 581.1 890.7 578.7 892 578" class="k" /><path d="M811.6 564.6 C814.2 564.8 821.5 565.6 827.2 565.9 C832.9 566.2 840 566.6 845.8 566.6 C851.6 566.6 856.3 566.3 862 565.6 C867.7 564.9 875.5 563.6 880 562.4 C884.5 561.2 887 559.8 889 558.4 C891 557 891.9 555.5 892.2 554.2 C892.5 552.9 891.6 551.6 890.6 550.4 C889.6 549.2 887.9 548.1 886 547 C884.1 545.9 880.2 544.3 879 543.8 L843 536.4 L767.8 553.2 Z" class="w" /><path d="M767.8 553.2 L811.6 564.6" class="k" /><path d="M767.8 553.2 L767.8 569.4 L811.6 580.8 L811.6 564.6" class="w" /><path d="M811.6 564.6 C814.2 564.8 821.5 565.6 827.2 565.9 C832.9 566.2 840 566.6 845.8 566.6 C851.6 566.6 856.3 566.3 862 565.6 C867.7 564.9 875.5 563.6 880 562.4 C884.5 561.2 887 559.8 889 558.4 C891 557 891.7 554.9 892.2 554.2 L892.6 570.6 L892.6 570.6 C892.1 571.6 892.7 574.8 889.6 576.6 C886.5 578.4 880.6 580.2 874 581.4 C867.4 582.6 857 583.3 850 583.8 C843 584.3 838.4 584.7 832 584.2 C825.6 583.7 815 581.4 811.6 580.8 Z" class="w" /><path d="M823.5 553 C823.7 554 822.6 557.4 824.5 559 C826.4 560.6 831.5 561.9 835 562.6 C838.5 563.3 841.6 563.4 845.8 563.4 C850 563.4 856 563.3 860 562.6 C864 561.9 868.3 559.9 870 559.4" class="k" /><ellipse cx="814" cy="551" rx="7.6" ry="2.7" class="w" /><ellipse cx="814" cy="551.3" rx="4.7" ry="1.6" class="k" style="fill:#222"/><ellipse cx="814" cy="551.3" rx="1.9" ry="0.8" class="k" style="fill:#bbb;stroke:none"/><ellipse cx="814" cy="557.6" rx="7.6" ry="2.7" class="w" /><ellipse cx="814" cy="557.9" rx="4.7" ry="1.6" class="k" style="fill:#222"/><ellipse cx="814" cy="557.9" rx="1.9" ry="0.8" class="k" style="fill:#bbb;stroke:none"/><ellipse cx="876.4" cy="551" rx="7.6" ry="2.7" class="w" /><ellipse cx="876.4" cy="551.3" rx="4.7" ry="1.6" class="k" style="fill:#222"/><ellipse cx="876.4" cy="551.3" rx="1.9" ry="0.8" class="k" style="fill:#bbb;stroke:none"/><ellipse cx="876.4" cy="557.6" rx="7.6" ry="2.7" class="w" /><ellipse cx="876.4" cy="557.9" rx="4.7" ry="1.6" class="k" style="fill:#222"/><ellipse cx="876.4" cy="557.9" rx="1.9" ry="0.8" class="k" style="fill:#bbb;stroke:none"/><path d="M824.4 545.4 C824.4 550.4 829 557.9 833 557.9 C837 557.9 841.6 550.4 841.6 545.4" class="w" style="stroke-width:1.10"/><ellipse cx="833" cy="545.4" rx="8.6" ry="2.9" class="w" style="stroke-width:1.10"/><ellipse cx="833" cy="545.6" rx="5.2" ry="1.6" class="k" style="fill:#222"/><ellipse cx="833" cy="545.6" rx="2" ry="0.7" class="k" style="fill:#bbb;stroke:none"/><path d="M849.8 545.4 C849.8 550.4 854.4 557.9 858.4 557.9 C862.4 557.9 867 550.4 867 545.4" class="w" style="stroke-width:1.10"/><ellipse cx="858.4" cy="545.4" rx="8.6" ry="2.9" class="w" style="stroke-width:1.10"/><ellipse cx="858.4" cy="545.6" rx="5.2" ry="1.6" class="k" style="fill:#222"/><ellipse cx="858.4" cy="545.6" rx="2" ry="0.7" class="k" style="fill:#bbb;stroke:none"/><ellipse cx="833" cy="562.6" rx="7.6" ry="2.5" class="w" /><ellipse cx="833" cy="562.9" rx="4.7" ry="1.5" class="k" style="fill:#222"/><ellipse cx="833" cy="562.9" rx="1.9" ry="0.8" class="k" style="fill:#bbb;stroke:none"/><ellipse cx="858.4" cy="562.6" rx="7.6" ry="2.5" class="w" /><ellipse cx="858.4" cy="562.9" rx="4.7" ry="1.5" class="k" style="fill:#222"/><ellipse cx="858.4" cy="562.9" rx="1.9" ry="0.8" class="k" style="fill:#bbb;stroke:none"/></g>
<g id="act3"><path d="M659.4 411.6 L655 417.2 L656.2 429 L656.4 437.6 L660.2 441.6 L663.4 440.8 L668.2 447.2 L668.4 452.8 L673 454.4 L681 460 L693 471 L707.4 481.2 L713.4 484.2 L716 484.2 L716 440 L706 426 L678 427 Z" class="w" style="stroke:none"/><path d="M659.4 411.6 C658.7 412.5 655.6 415.1 655 417.2 C654.4 419.3 655.7 421.9 656 424 C656.3 426.1 656.4 427.5 657 429.6 C657.6 431.7 659 435.6 659.4 436.8" class="k" /><path d="M659.4 411.6 C661.4 413.7 668.3 421.4 671.4 424 C674.5 426.6 675.3 426.7 677.8 427.2 C680.3 427.7 685.1 426.9 686.6 426.8" class="k" /><path d="M657 430.4 C656.8 431 656.1 432.8 656 434 C655.9 435.2 655.7 436.3 656.4 437.6 C657.1 438.9 659 441.1 660.2 441.6 C661.4 442.1 662.9 440.9 663.4 440.8" class="k" /><path d="M668.2 447.2 C668.1 447.7 667.5 449.1 667.6 450 C667.7 450.9 667.7 452.1 668.6 452.8 C669.5 453.5 672.3 454.1 673 454.4" class="k" /><path d="M659.4 436.8 C660.2 437.1 662.7 438 664.2 438.4 C665.7 438.8 667.5 439.1 668.2 439.2" class="k" /><path d="M659.4 436.8 C661.4 438.8 667.8 444.7 671.4 448.6 C675 452.5 677.4 456.3 681 460 C684.6 463.7 688.6 467.4 693 471 C697.4 474.6 704 479.6 707.4 481.8 C710.8 484 712.4 483.8 713.4 484.2" class="k" /><path d="M668.2 438.4 L675.8 427.2" class="k" /><path d="M670.6 440 L678.2 427.6" class="k" /><path d="M668.2 438.4 L682.6 442.4 L697 436 L706 432" class="k" /><path d="M682.6 442.4 L697 457.6 L712.2 450" class="k" /><path d="M669 440.8 L685 458.4 L701.4 467.4" class="k" style="stroke-width:1.46"/><path d="M672.6 441.6 L688.2 457.2 L703.8 466.8" class="k" style="stroke-width:0.61"/><path d="M697.8 456.6 L702.6 463.8 L709.8 469.8" class="k" /><path d="M686 460 L696 463.4 L702 466" class="k" style="stroke-width:0.61"/><path d="M699 465.6 L703.2 467.4 L702 470.4 L697.8 468.6 Z" fill="#333" stroke="#111" stroke-width="0.61"/><ellipse cx="698.4" cy="443.4" rx="5.4" ry="3.1" class="w" transform="rotate(-12 698.4 443.4)" /><ellipse cx="708.6" cy="456.6" rx="4.4" ry="2.7" class="w" transform="rotate(-12 708.6 456.6)" /><path d="M699.7 364 L705.3 361.9 L726.3 368.2 L729.8 371 L748 388.9 L745 394 L737 392 L711.6 428.4 L706 425.6 L714.4 406 L718.6 392 L717.2 383.6 L711.6 377.3 Z" class="w" style="stroke:none"/><path d="M699.7 364 C700.1 363.7 701.1 362.8 702 362.4 C702.9 362 704.8 362 705.3 361.9" class="k" /><path d="M705.3 361.9 L726.3 368.2 L729.8 371 L748 388.9" class="k" /><path d="M715.1 365.1 L708.5 374.5" class="k" /><path d="M713 364.4 L706.7 373.1" class="k" /><path d="M729.8 371 L732.6 385.7 L743.1 392.7 L748 388.9" class="k" /><ellipse cx="735.4" cy="382.5" rx="2" ry="4.2" class="w" transform="rotate(-15 735.4 382.5)" /><path d="M732.6 385.7 L706 425.6" class="k" /><path d="M736.8 392 L711.6 428.4" class="k" /><path d="M711.6 377.3 C712.5 378.4 716 381.2 717.2 383.6 C718.4 386.1 719.1 388.3 718.6 392 C718.1 395.7 717 401.6 714.4 406 C711.8 410.4 707.6 415.2 703.2 418.6 C698.8 422 692 424.9 687.8 426.3 C683.6 427.7 679.6 426.9 678 427" class="k" /><path d="M732.8 402.4 L716 425.8 L712.4 440.8 L711.8 460 L714.2 478 L717 492 L722 497 L745 503 L760 470 L790 400 L770 392 L745 392 Z" class="w" style="stroke:none"/><path d="M738.5 396 C737.5 397.1 736.5 397.4 732.8 402.4 C729 407.4 719.4 419.4 716 425.8 C712.6 432.2 713.1 435.1 712.4 440.8 C711.7 446.5 711.5 453.8 711.8 460 C712.1 466.2 713.4 473 714.2 478 C715 483 716.1 488 716.5 490" class="k" /><path d="M735.8 403.6 C734.5 405.4 730.5 410 728 414.4 C725.5 418.8 722.8 425.8 720.8 430 C718.8 434.2 717.2 435.6 716 439.6 C714.8 443.6 713.8 448.6 713.6 454 C713.4 459.4 714.3 467 714.8 472 C715.3 477 716.3 482 716.6 484" class="k" /><clipPath id="df8"><path d="M735.8 403.6 L756.8 411.4 L762.8 413.2 L753.2 430 L747.2 432.4 L724.4 424 L728 414.4 Z"/></clipPath><g clip-path="url(#df8)"><path d="M735.8 403.6 L756.8 411.4 L762.8 413.2 L753.2 430 L747.2 432.4 L724.4 424 L728 414.4 Z" fill="#8a8a8a"/><path d="M730.1 401.9L764.2 412.2M729.4 404.1L763.5 414.4M728.7 406.3L762.8 416.6M728.1 408.5L762.1 418.8M727.4 410.7L761.5 421M726.7 412.9L760.8 423.2M726.1 415.1L760.1 425.4M725.4 417.3L759.5 427.6M724.7 419.5L758.8 429.8M724.1 421.7L758.1 432M723.4 423.9L757.5 434.2" stroke="#111" stroke-width="1.40" fill="none"/><path d="M729.7 403L763.8 413.3M729.1 405.2L763.2 415.5M728.4 407.4L762.5 417.7M727.7 409.6L761.8 419.9M727.1 411.8L761.1 422.1M726.4 414L760.5 424.3M725.7 416.2L759.8 426.5M725.1 418.4L759.1 428.7M724.4 420.6L758.5 430.9M723.7 422.8L757.8 433.1M723.1 425L757.1 435.3" stroke="#d0d0d0" stroke-width="0.43" fill="none"/></g><clipPath id="df9"><path d="M719.6 438.4 L747.2 447.4 L744.8 460 L742.4 474.4 L738.8 486.4 L719.6 481.6 L717.2 467.2 L716.6 450.4 Z"/></clipPath><g clip-path="url(#df9)"><path d="M719.6 438.4 L747.2 447.4 L744.8 460 L742.4 474.4 L738.8 486.4 L719.6 481.6 L717.2 467.2 L716.6 450.4 Z" fill="#6a6a6a"/><path d="M718.6 438.1L751.5 448.1M718 440.3L750.8 450.3M717.3 442.5L750.1 452.5M716.6 444.7L749.5 454.7M716 446.9L748.8 456.9M715.3 449.1L748.1 459.1M714.6 451.3L747.5 461.3M714 453.5L746.8 463.5M713.3 455.7L746.1 465.7M712.6 457.9L745.5 467.9M712 460.1L744.8 470.1M711.3 462.3L744.1 472.3M710.6 464.5L743.5 474.5M710 466.7L742.8 476.7M709.3 468.9L742.1 478.9M708.6 471.1L741.5 481.1M708 473.3L740.8 483.3M707.3 475.5L740.1 485.5" stroke="#111" stroke-width="1.52" fill="none"/><path d="M718.3 439.2L751.1 449.2M717.6 441.4L750.5 451.4M717 443.6L749.8 453.6M716.3 445.8L749.1 455.8M715.6 448L748.5 458M715 450.2L747.8 460.2M714.3 452.4L747.1 462.4M713.6 454.6L746.5 464.6M713 456.8L745.8 466.8M712.3 459L745.1 469M711.6 461.2L744.5 471.2M711 463.4L743.8 473.4M710.3 465.6L743.1 475.6M709.6 467.8L742.5 477.8M709 470L741.8 480M708.3 472.2L741.1 482.2M707.6 474.4L740.5 484.4M707 476.6L739.8 486.6" stroke="#d0d0d0" stroke-width="0.43" fill="none"/></g><clipPath id="df10"><path d="M720 492 L740 497.6 L738 503 L722.5 498.5 Z"/></clipPath><g clip-path="url(#df10)"><path d="M720 492 L740 497.6 L738 503 L722.5 498.5 Z" fill="#6a6a6a"/><path d="M719.2 491.3L741 497.9M718.5 493.4L740.3 500M717.9 495.5L739.7 502.1" stroke="#111" stroke-width="1.46" fill="none"/><path d="M718.9 492.3L740.6 498.9M718.2 494.4L740 501M717.6 496.6L739.4 503.2" stroke="#d0d0d0" stroke-width="0.43" fill="none"/></g><path d="M753 410.6l5.4 2.6M751 414.4l5.4 2.6M748.8 418.4l5.4 2.6M746.6 422.6l5.4 2.6M744.6 426.8l5.4 2.6M736 447.6l7.6 1.9M735.4 452.6l7.6 1.9M735 457.8l7.6 1.9M734.4 463l7.6 1.9M734 468.4l7.6 1.9M733.6 473.6l7.6 1.9M733 478.8l7.6 1.9M732.6 483.6l7.6 1.9" stroke="#fff" stroke-width="1.83" fill="none"/><path d="M762.8 413.2 C761 416.8 754.6 429 752 434.8 C749.4 440.6 748.6 441.8 747.2 448 C745.8 454.2 744.8 465 743.6 472 C742.4 479 740.9 484.8 740 490 C739.1 495.2 738.3 500.8 738 503" class="k" /><path d="M771.2 412 C769.2 416 762.2 429.2 759.2 436 C756.2 442.8 754.8 446.8 753.2 452.8 C751.6 458.8 750.6 465.8 749.6 472 C748.6 478.2 748 484.8 747.2 490 C746.4 495.2 745.4 500.8 745 503" class="k" /><path d="M766 412.4 C764.2 416.2 758.1 429.1 755.4 435.4 C752.7 441.7 751.5 444.3 750 450.4 C748.5 456.5 747.7 465.4 746.6 472 C745.5 478.6 744.1 487 743.6 490" class="k" style="stroke-width:0.55"/><path d="M733.3 401.4 L768.3 412 L770.7 404.4 L735.7 393.8 Z" class="w" /><ellipse cx="734.5" cy="397.6" rx="1.6" ry="4" class="w" transform="rotate(16 734.5 397.6)" /><ellipse cx="769.5" cy="408.2" rx="1.8" ry="4" class="w" transform="rotate(16 769.5 408.2)" /><ellipse cx="772.5" cy="409.4" rx="3.3" ry="3.6" class="w" transform="rotate(10 772.5 409.4)" /><ellipse cx="772.5" cy="409.4" rx="1.8" ry="2.1" class="k" transform="rotate(10 772.5 409.4)" /><path d="M716.1 430.9 L754.9 442.7 L757.1 435.7 L718.3 423.9 Z" class="w" /><ellipse cx="717.2" cy="427.4" rx="1.6" ry="3.7" class="w" transform="rotate(16 717.2 427.4)" /><ellipse cx="756" cy="439.2" rx="1.8" ry="3.7" class="w" transform="rotate(16 756 439.2)" /><ellipse cx="758.4" cy="440.2" rx="3" ry="3.4" class="w" transform="rotate(10 758.4 440.2)" /><ellipse cx="758.4" cy="440.2" rx="1.6" ry="1.9" class="k" transform="rotate(10 758.4 440.2)" /><path d="M715.3 490 L740.9 497.4 L743.1 490.2 L717.5 482.8 Z" class="w" /><ellipse cx="716.4" cy="486.4" rx="1.6" ry="3.8" class="w" transform="rotate(16 716.4 486.4)" /><ellipse cx="742" cy="493.8" rx="1.8" ry="3.8" class="w" transform="rotate(16 742 493.8)" /><path d="M750.4 390.8 L760 386 L778 380.6 L792.4 376.4 L808 371.6 L824.8 375.2 L835.6 379.4 L840.4 383.6 L833.2 384.8 L797.2 393.2 L787.6 395.6 L781.6 398.6 L775.6 401 L766 398 L749.2 393.8 Z" class="w" style="stroke-width:1.10"/><clipPath id="df11"><path d="M750.4 390.8 L760 386 L778 380.6 L792.4 376.4 L808 371.6 L824.8 375.2 L835.6 379.4 L840.4 383.6 L833.2 384.8 L797.2 393.2 L787.6 395.6 L781.6 398.6 L775.6 401 L766 398 L749.2 393.8 Z"/></clipPath><g clip-path="url(#df11)"><path d="M750.4 390.8 L760 386 L778 380.6 L792.4 376.4 L808 371.6 L824.8 375.2 L835.6 379.4 L840.4 383.6 L833.2 384.8 L797.2 393.2 L787.6 395.6 L781.6 398.6 L775.6 401 L766 398 L749.2 393.8 Z" fill="#d8d8d8"/><path d="M759.8 355.5L842.4 380.5M759.2 357.3L841.8 382.3M758.7 359.1L841.3 384.2M758.1 360.9L840.7 386M757.6 362.8L840.2 387.8M757 364.6L839.6 389.6M756.5 366.4L839.1 391.4M755.9 368.2L838.5 393.3M755.4 370L838 395.1M754.8 371.9L837.4 396.9M754.3 373.7L836.9 398.7M753.7 375.5L836.3 400.5M753.2 377.3L835.8 402.3M752.6 379.1L835.2 404.2M752 380.9L834.7 406M751.5 382.8L834.1 407.8M750.9 384.6L833.6 409.6M750.4 386.4L833 411.4M749.8 388.2L832.5 413.3M749.3 390L831.9 415.1M748.7 391.9L831.4 416.9" stroke="#111" stroke-width="1.04" fill="none"/></g><clipPath id="df12"><path d="M775.6 401 L769.5 394.5 L784 388 L797 383 L814 378.5 L832 378 L840.4 383.6 L833.2 384.8 L797.2 393.2 L787.6 395.6 L781.6 398.6 Z"/></clipPath><g clip-path="url(#df12)"><path d="M775.6 401 L769.5 394.5 L784 388 L797 383 L814 378.5 L832 378 L840.4 383.6 L833.2 384.8 L797.2 393.2 L787.6 395.6 L781.6 398.6 Z" fill="#f6f6f6"/><path d="M767.7 398.2L789 355.4M769.4 399L790.7 356.3M771.1 399.9L792.4 357.1M772.8 400.7L794.1 358M774.5 401.6L795.8 358.8M776.2 402.4L797.5 359.7M777.9 403.3L799.2 360.5M779.6 404.1L800.9 361.4M781.3 405L802.6 362.2M783 405.8L804.3 363.1M784.7 406.7L806 363.9M786.4 407.5L807.7 364.8M788.1 408.4L809.4 365.6M789.8 409.2L811.1 366.5M791.5 410.1L812.8 367.3M793.2 410.9L814.5 368.2M794.9 411.7L816.2 369M796.6 412.6L817.9 369.9M798.3 413.4L819.6 370.7M800 414.3L821.3 371.5M801.7 415.1L823 372.4M803.4 416L824.7 373.2M805.1 416.8L826.4 374.1M806.8 417.7L828.1 374.9M808.5 418.5L829.8 375.8M810.2 419.4L831.5 376.6M811.9 420.2L833.2 377.5M813.6 421.1L834.9 378.3M815.3 421.9L836.6 379.2M817 422.8L838.3 380M818.7 423.6L840 380.9" stroke="#111" stroke-width="1.10" fill="none"/></g><path d="M784.6 386.5 L788.6 393.5" class="k" style="stroke-width:2.20"/><path d="M750.4 390.8 L760 386 L778 380.6 L792.4 376.4 L808 371.6 L824.8 375.2 L835.6 379.4 L840.4 383.6 L833.2 384.8 L797.2 393.2 L787.6 395.6 L781.6 398.6 L775.6 401 L766 398 L749.2 393.8 Z" class="k" style="stroke-width:1.10"/><path d="M856 411 L860 410.2 L892 419.6 L893.6 430 L893 456 L888 474 L878 488 L862 498 L845 503.6 L841 495 Z" class="w" style="stroke:none"/><path d="M893.4 424 C893.4 425 893.7 424.7 893.6 430 C893.5 435.3 893.9 448.7 893 456 C892.1 463.3 890.5 468.7 888 474 C885.5 479.3 882.3 484 878 488 C873.7 492 867.5 495.4 862 498 C856.5 500.6 847.8 502.7 845 503.6" class="k" /><path d="M858 412 L892.4 421.6 L858.4 428.8" class="k" style="stroke-width:1.10"/><path d="M858.4 428.8 L892.4 421.6" class="k" style="stroke-width:1.83"/><path d="M859 414.6 L883 421.6 L859 427.2 Z" fill="#2a2a2a"/><path d="M860.6 416.6 l8 1.6 l0 1.2 l-8 -1.2Z M870 418.4 l5 1.1 l0 1 l-5 -0.9Z M860.4 421.4 l1.8 0 l0 3.4 l-1.8 0.3Z M863.4 421.4 l1.8 0 l0 2.9 l-1.8 0.3Z M866.6 421.2 l4 0.2 l-3.4 2.2Z" fill="#f4f4f4"/><path d="M771 402 L776.2 400.6 L786 394.3 L791.6 395 L814 390.1 L836.4 383.1 L840.6 383.1 L847.6 386.6 L853.2 393.6 L856.7 403.4 L858 426 L854 450 L848 474 L843 492 L841 504 L800 500 L760 440 Z" class="w" style="stroke:none"/><path d="M840.6 383.1 C841.8 383.7 845.5 384.9 847.6 386.6 C849.7 388.4 851.7 390.8 853.2 393.6 C854.7 396.4 855.9 399 856.7 403.4 C857.5 407.8 858 414.6 858 420 C858 425.4 857.7 431 857 436 C856.3 441 855.5 443.7 854 450 C852.5 456.3 849.8 467 848 474 C846.2 481 844.2 487 843 492 C841.8 497 841.3 502 841 504" class="k" style="stroke-width:1.10"/><path d="M776.2 400.6 L786 394.6 L791.6 395 L814 390.1 L836.4 383.1 L840.6 383.1" class="k" style="stroke-width:1.10"/><path d="M774 406.5 C775.6 405.5 779.6 402.3 783.9 400.6 C788.2 398.9 795 397.5 800 396.2 C805 394.9 807.5 394.6 814 392.9 C820.5 391.2 835 387.1 839.2 385.9" class="k" /><ellipse cx="819" cy="395.6" rx="1.7" ry="2" class="w" transform="rotate(15 819 395.6)" /><ellipse cx="854" cy="428.2" rx="1.7" ry="2" class="w" transform="rotate(15 854 428.2)" /><ellipse cx="862" cy="494.4" rx="1.7" ry="2" class="w" transform="rotate(15 862 494.4)" /><path d="M757 490 C757.2 487 756.8 479 758 472 C759.2 465 761.4 456 764 448 C766.6 440 770.2 430.5 773.6 424 C777 417.5 780.7 412.4 784.6 408.8 C788.5 405.2 792.3 404 797.2 402.6 C802.1 401.2 808.8 400.4 814 400.4 C819.2 400.4 824.1 400.7 828.4 402.4 C832.7 404.1 836.4 406.8 839.6 410.4 C842.8 414 845.6 419.1 847.6 424 C849.6 428.9 850.8 434 851.6 440 C852.4 446 852.5 455 852.4 460 C852.3 465 851.9 466.3 850.8 470 C849.7 473.7 847.3 477.6 846 482 C844.7 486.4 843.4 492.2 842.8 496.4 C842.2 500.6 842.5 505.4 842.4 507.2 L842.6 537.2 L775.2 552.4 L740 558.2 C730 559.6 721 552 720.8 545.2 L722 532.8 L752.6 450 L763 432 Z" class="w" style="stroke:none"/><path d="M757 490 C757.2 487 756.8 479 758 472 C759.2 465 761.4 456 764 448 C766.6 440 770.2 430.5 773.6 424 C777 417.5 780.7 412.4 784.6 408.8 C788.5 405.2 792.3 404 797.2 402.6 C802.1 401.2 808.8 400.4 814 400.4 C819.2 400.4 824.1 400.7 828.4 402.4 C832.7 404.1 836.4 406.8 839.6 410.4 C842.8 414 845.6 419.1 847.6 424 C849.6 428.9 850.8 434 851.6 440 C852.4 446 852.5 455 852.4 460 C852.3 465 851.9 466.3 850.8 470 C849.7 473.7 847.3 477.6 846 482 C844.7 486.4 843.4 492.2 842.8 496.4 C842.2 500.6 842.5 505.4 842.4 507.2" class="k" style="stroke-width:1.10"/><path d="M820 403.4 C821.8 404 827.7 405.1 831 407 C834.3 408.9 837.5 411.4 840 414.6 C842.5 417.8 844.4 421.8 846 426 C847.6 430.2 848.7 434.7 849.4 440 C850.1 445.3 850.2 453 850 458 C849.8 463 849.4 466 848.4 470 C847.4 474 844.7 480 844 482" class="k" style="stroke-width:0.61"/><path d="M842.4 507.2 L842.6 537.2" class="k" style="stroke-width:1.10"/><path d="M842.6 537.2 L775.2 552.4" class="k" /><path d="M755.4 444 L752.6 450 L722 532.8" class="k" /><path d="M722 532.8 L720.8 545.2 C721 552 730 559.6 740 558.2 L775.2 552.4" class="k" /><path d="M766.4 450 L749.6 486 L732.8 532.8" class="k" /><path d="M732.8 532.8 C731 540 733 550 742 557.8" class="k" /><path d="M722 532.8 L731.6 535.2" class="k" /><ellipse cx="744.2" cy="540.6" rx="3.6" ry="4.6" class="w" transform="rotate(15 744.2 540.6)" /><path d="M775.2 552.4 L767.8 553.2" class="k" /><path d="M751.4 484.8 L766.4 489.6" class="k" /><path d="M750.4 485.2 C750 487.7 747.9 495.5 748 500 C748.1 504.5 749.3 508.2 750.8 512.4 C752.3 516.6 754.4 520.4 756.8 525 C759.2 529.6 762.2 535.4 765 540 C767.8 544.6 772.2 550.3 773.6 552.4" class="k" /><path d="M748.6 490 C748.2 491.8 746.2 497 746.2 501 C746.2 505 747.4 509.7 748.8 514 C750.2 518.3 752.4 522 754.8 526.6 C757.2 531.2 760.4 537.2 763 541.6 C765.6 546 769.3 551.1 770.6 553" class="k" style="stroke-width:0.61"/><path d="M766.4 489.6 C766 491.4 763.8 495.8 764 500.4 C764.2 505 764.6 510.8 767.6 517.2 C770.6 523.6 778.4 533.5 782 538.8 C785.6 544.1 787.8 547.3 789 549" class="k" /><path d="M755.6 524.4 L767.6 520.2" class="k" /><path d="M777.2 462 L766.4 489.6" class="k" /><path d="M788 430 C786.2 433.7 779.8 445.3 777 452 C774.2 458.7 772.4 464.7 771 470 C769.6 475.3 768.8 481.7 768.4 484" class="k" style="stroke-width:0.73"/><ellipse cx="814.8" cy="462" rx="30.3" ry="44.5" class="k" transform="rotate(7 814.8 462)" /><path d="M807.8 414.5 C808.5 414.1 810.7 412.9 812.1 412.3 C813.6 411.8 815.1 411.4 816.5 411.1 C818 410.8 819.5 410.7 820.9 410.8 C822.4 410.8 823.9 411 825.3 411.3 C826.7 411.7 828.1 412.2 829.4 412.8 C830.8 413.5 832.1 414.2 833.3 415.2 C834.6 416.1 835.8 417.1 836.9 418.3 C838.1 419.5 839.2 420.8 840.1 422.3 C841.1 423.7 842.1 425.2 842.9 426.9 C843.7 428.5 844.5 430.3 845.2 432.1 C845.8 433.9 846.4 435.9 846.9 437.9 C847.4 439.8 847.7 441.9 848 444 C848.3 446.1 848.5 448.2 848.6 450.4 C848.6 452.5 848.6 454.7 848.5 456.9 C848.4 459.1 848.1 461.3 847.8 463.5 C847.5 465.7 847 467.9 846.5 470 C846 472.1 845.4 474.2 844.7 476.3 C844 478.3 843.2 480.3 842.3 482.2 C841.4 484.1 840.5 486 839.4 487.7 C838.4 489.4 837.3 491.1 836.1 492.6 C835 494.2 833.7 495.6 832.5 496.9 C831.2 498.2 829.8 499.4 828.5 500.4 C827.1 501.5 825.7 502.4 824.3 503.2 C822.8 503.9 820.6 504.8 819.9 505.1" class="k" /><path d="M789 478.2 C788.7 477.5 787.8 475.6 787.4 474.1 C786.9 472.6 786.5 471 786.3 469.3 C786 467.7 785.8 465.9 785.7 464.2 C785.6 462.4 785.6 460.6 785.7 458.8 C785.9 457 786.1 455.1 786.4 453.3 C786.7 451.5 787.1 449.7 787.5 448 C788 446.3 788.6 444.6 789.2 443 C789.9 441.4 790.6 439.8 791.4 438.4 C792.2 437 793 435.7 793.9 434.5 C794.8 433.3 796.3 431.8 796.8 431.3" class="k" style="stroke-width:0.85"/><ellipse cx="801.6" cy="458" rx="17.4" ry="27" class="w" transform="rotate(8 801.6 458)" /><path d="M801.2 437.4 C801.6 437.5 802.9 437.6 803.6 437.9 C804.4 438.1 805.1 438.6 805.8 439.2 C806.5 439.7 807.1 440.5 807.7 441.3 C808.3 442.1 808.8 443.1 809.2 444.2 C809.7 445.2 810.1 446.4 810.3 447.7 C810.6 448.9 810.8 450.2 810.9 451.6 C811 452.9 811.1 454.4 811 455.8 C810.9 457.2 810.8 458.7 810.6 460.1 C810.3 461.5 810 462.9 809.6 464.2 C809.2 465.6 808.7 466.9 808.2 468.1 C807.7 469.3 807 470.5 806.4 471.5 C805.7 472.5 805 473.5 804.3 474.3 C803.5 475.1 802.7 475.8 801.9 476.3 C801.1 476.8 800.3 477.2 799.5 477.5 C798.6 477.7 797.8 477.8 797 477.7 C796.2 477.7 795.1 477.2 794.7 477.1" class="k" style="stroke-width:0.98"/><path d="M801.4 435.5 C801.8 435.6 803.2 435.6 804 436 C804.9 436.3 805.7 436.8 806.4 437.4 C807.2 438 807.9 438.8 808.5 439.7 C809.1 440.7 809.7 441.7 810.2 442.9 C810.7 444 811.1 445.3 811.4 446.7 C811.7 448.1 811.9 449.5 812 451 C812.2 452.5 812.2 454.1 812.1 455.6 C812.1 457.2 811.9 458.8 811.6 460.3 C811.4 461.8 811 463.4 810.6 464.9 C810.2 466.3 809.6 467.8 809 469.1 C808.5 470.4 807.8 471.7 807.1 472.8 C806.3 474 805.5 475 804.7 475.9 C803.9 476.7 803 477.5 802.2 478.1 C801.3 478.7 800.4 479.1 799.5 479.4 C798.6 479.6 797.7 479.7 796.8 479.7 C795.9 479.6 794.6 479.1 794.2 479" class="k" style="stroke-width:1.22"/><path d="M801.6 433.6 C802.1 433.6 803.5 433.7 804.4 434.1 C805.3 434.4 806.2 434.9 807 435.6 C807.9 436.3 808.6 437.2 809.3 438.2 C810 439.2 810.6 440.3 811.1 441.6 C811.7 442.9 812.1 444.3 812.4 445.7 C812.8 447.2 813 448.8 813.2 450.4 C813.3 452 813.3 453.7 813.2 455.4 C813.2 457.1 813 458.9 812.7 460.5 C812.4 462.2 812 463.9 811.6 465.5 C811.1 467.1 810.5 468.7 809.9 470.1 C809.3 471.6 808.5 473 807.7 474.2 C807 475.4 806.1 476.5 805.2 477.5 C804.3 478.4 803.4 479.3 802.4 479.9 C801.5 480.5 800.5 481 799.5 481.3 C798.5 481.6 797.5 481.7 796.5 481.6 C795.6 481.6 794.2 481 793.7 480.9" class="k" style="stroke-width:0.98"/><path d="M806.5 437.5 C806.9 437.9 808 439 808.6 439.9 C809.2 440.8 809.8 441.9 810.2 443 C810.7 444.2 811.1 445.5 811.4 446.8 C811.7 448.2 811.9 449.6 812 451.1 C812.2 452.6 812.2 454.1 812.1 455.7 C812.1 457.2 811.9 458.8 811.6 460.3 C811.4 461.8 811 463.4 810.6 464.8 C810.2 466.3 809.7 467.7 809.1 469 C808.5 470.3 807.8 471.6 807.1 472.7 C806.4 473.8 805.6 474.9 804.8 475.7 C804 476.6 803.2 477.4 802.3 478 C801.4 478.6 800.1 479.1 799.6 479.3" class="k" style="stroke-width:1.95;stroke:#333"/><ellipse cx="793.8" cy="456.8" rx="9.8" ry="13.8" class="w" transform="rotate(8 793.8 456.8)" /><ellipse cx="790.4" cy="457" rx="6.4" ry="10.8" class="w" transform="rotate(8 790.4 457)" /><ellipse cx="797.2" cy="421.8" rx="7.2" ry="9.8" class="k" transform="rotate(8 797.2 421.8)" style="fill:#fff;stroke-width:1.34"/><ellipse cx="798" cy="421" rx="6.6" ry="9.2" class="w" transform="rotate(8 798 421)" style="stroke-width:1.10"/><ellipse cx="798" cy="421" rx="4.5" ry="6.3" class="w" transform="rotate(8 798 421)" style="stroke-width:1.10"/><ellipse cx="798" cy="421" rx="2.2" ry="3.3" class="k" transform="rotate(8 798 421)" style="stroke-width:0.73"/><ellipse cx="824.8" cy="416.2" rx="7.2" ry="9.8" class="k" transform="rotate(8 824.8 416.2)" style="fill:#fff;stroke-width:1.34"/><ellipse cx="825.6" cy="415.4" rx="6.6" ry="9.2" class="w" transform="rotate(8 825.6 415.4)" style="stroke-width:1.10"/><ellipse cx="825.6" cy="415.4" rx="4.5" ry="6.3" class="w" transform="rotate(8 825.6 415.4)" style="stroke-width:1.10"/><ellipse cx="825.6" cy="415.4" rx="2.2" ry="3.3" class="k" transform="rotate(8 825.6 415.4)" style="stroke-width:0.73"/><ellipse cx="778" cy="455.8" rx="7.2" ry="9.8" class="k" transform="rotate(8 778 455.8)" style="fill:#fff;stroke-width:1.34"/><ellipse cx="778.8" cy="455" rx="6.6" ry="9.2" class="w" transform="rotate(8 778.8 455)" style="stroke-width:1.10"/><ellipse cx="778.8" cy="455" rx="4.5" ry="6.3" class="w" transform="rotate(8 778.8 455)" style="stroke-width:1.10"/><ellipse cx="778.8" cy="455" rx="2.2" ry="3.3" class="k" transform="rotate(8 778.8 455)" style="stroke-width:0.73"/><ellipse cx="778.6" cy="491.8" rx="7.2" ry="9.8" class="k" transform="rotate(8 778.6 491.8)" style="fill:#fff;stroke-width:1.34"/><ellipse cx="779.4" cy="491" rx="6.6" ry="9.2" class="w" transform="rotate(8 779.4 491)" style="stroke-width:1.10"/><ellipse cx="779.4" cy="491" rx="4.5" ry="6.3" class="w" transform="rotate(8 779.4 491)" style="stroke-width:1.10"/><ellipse cx="779.4" cy="491" rx="2.2" ry="3.3" class="k" transform="rotate(8 779.4 491)" style="stroke-width:0.73"/><ellipse cx="797.8" cy="511.6" rx="7.2" ry="9.8" class="k" transform="rotate(8 797.8 511.6)" style="fill:#fff;stroke-width:1.34"/><ellipse cx="798.6" cy="510.8" rx="6.6" ry="9.2" class="w" transform="rotate(8 798.6 510.8)" style="stroke-width:1.10"/><ellipse cx="798.6" cy="510.8" rx="4.5" ry="6.3" class="w" transform="rotate(8 798.6 510.8)" style="stroke-width:1.10"/><ellipse cx="798.6" cy="510.8" rx="2.2" ry="3.3" class="k" transform="rotate(8 798.6 510.8)" style="stroke-width:0.73"/><ellipse cx="824.2" cy="504.4" rx="7.2" ry="9.8" class="k" transform="rotate(8 824.2 504.4)" style="fill:#fff;stroke-width:1.34"/><ellipse cx="825" cy="503.6" rx="6.6" ry="9.2" class="w" transform="rotate(8 825 503.6)" style="stroke-width:1.10"/><ellipse cx="825" cy="503.6" rx="4.5" ry="6.3" class="w" transform="rotate(8 825 503.6)" style="stroke-width:1.10"/><ellipse cx="825" cy="503.6" rx="2.2" ry="3.3" class="k" transform="rotate(8 825 503.6)" style="stroke-width:0.73"/><g transform="matrix(0.9636 -0.2672 0 1 859.8 439.4)" font-family="Liberation Sans, sans-serif" font-weight="bold" fill="#000" stroke="#000" stroke-width="0.55" opacity="0.99"><text x="0" y="0" font-size="7.2" textLength="30" lengthAdjust="spacingAndGlyphs">HEBI Robotics</text><text x="-0.4" y="9.3" font-size="7.2" textLength="18.6" lengthAdjust="spacingAndGlyphs">X-00009</text></g></g>
<g filter="url(#sh)"><line x1="845.5" y1="616.0" x2="766.2" y2="638.5" stroke="#DD2A10" stroke-width="4.8"/><polygon points="747.0,644.0 764.3,628.2 770.1,648.4" fill="#DD2A10"/><line x1="845.5" y1="616.0" x2="928.2" y2="638.7" stroke="#7DEC32" stroke-width="4.8"/><polygon points="947.5,644.0 924.5,648.6 930.0,628.3" fill="#7DEC32"/><line x1="845.8" y1="618.0" x2="846.0" y2="525.0" stroke="#2031F6" stroke-width="4.8"/><polygon points="846.0,505.0 856.5,526.0 835.5,526.0" fill="#2031F6"/><line x1="795.0" y1="456.0" x2="720.9" y2="468.6" stroke="#DD2A10" stroke-width="4.8"/><polygon points="701.2,472.0 720.1,458.1 723.7,478.8" fill="#DD2A10"/><line x1="795.0" y1="456.0" x2="702.8" y2="428.5" stroke="#2031F6" stroke-width="4.8"/><polygon points="683.6,422.8 706.7,418.7 700.7,438.9" fill="#2031F6"/><line x1="794.5" y1="458.0" x2="794.1" y2="361.0" stroke="#7DEC32" stroke-width="4.8"/><polygon points="794.0,341.0 804.6,362.0 783.6,362.0" fill="#7DEC32"/><line x1="493.0" y1="121.0" x2="571.8" y2="144.7" stroke="#2031F6" stroke-width="4.8"/><polygon points="591.0,150.5 567.9,154.5 573.9,134.4" fill="#2031F6"/><line x1="493.0" y1="121.0" x2="446.2" y2="199.8" stroke="#7DEC32" stroke-width="4.8"/><polygon points="436.0,217.0 437.7,193.6 455.7,204.3" fill="#7DEC32"/><line x1="493.0" y1="121.0" x2="427.3" y2="57.0" stroke="#DD2A10" stroke-width="4.8"/><polygon points="413.0,43.0 435.4,50.1 420.7,65.2" fill="#DD2A10"/><line x1="169.2" y1="628.0" x2="122.6" y2="703.0" stroke="#DD2A10" stroke-width="4.8"/><polygon points="112.0,720.0 114.2,696.6 132.0,707.7" fill="#DD2A10"/><line x1="169.2" y1="628.0" x2="66.0" y2="597.6" stroke="#2031F6" stroke-width="4.8"/><polygon points="46.8,592.0 69.9,587.9 64.0,608.0" fill="#2031F6"/><line x1="169.2" y1="628.0" x2="109.6" y2="573.5" stroke="#7DEC32" stroke-width="4.8"/><polygon points="94.8,560.0 117.4,566.4 103.2,581.9" fill="#7DEC32"/></g>
</svg>
</body></html>
